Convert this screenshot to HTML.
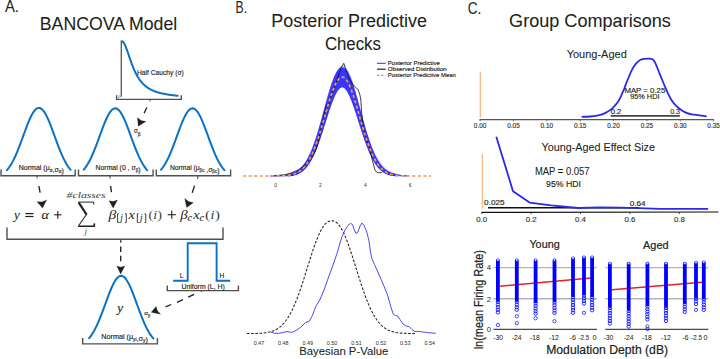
<!DOCTYPE html>
<html><head><meta charset="utf-8"><style>
html,body{margin:0;padding:0;background:#fff;}
body{width:720px;height:359px;overflow:hidden;}
svg{display:block;}
</style></head><body>
<svg width="720" height="359" viewBox="0 0 720 359">
<rect width="720" height="359" fill="#fff"/>
<text x="4.9" y="11.8" font-size="16.0" font-family='"Liberation Sans", sans-serif' fill="#231f20" textLength="14.0" lengthAdjust="spacingAndGlyphs" stroke="#231f20" stroke-width="0.08">A.</text>
<text x="39.8" y="30.2" font-size="18.2" font-family='"Liberation Sans", sans-serif' fill="#231f20" textLength="137.4" lengthAdjust="spacingAndGlyphs" stroke="#231f20" stroke-width="0.08">BANCOVA Model</text>
<line x1="121.30" y1="40.50" x2="121.30" y2="96.80" stroke="#58595b" stroke-width="1.35"/>
<path d="M121.60,41.20 L122.07,41.28 L122.55,41.52 L123.02,41.92 L123.50,42.47 L123.97,43.16 L124.44,43.98 L124.92,44.92 L125.39,45.96 L125.87,47.10 L126.34,48.31 L126.82,49.58 L127.29,50.91 L127.76,52.27 L128.24,53.65 L128.71,55.05 L129.19,56.45 L129.66,57.84 L130.13,59.22 L130.61,60.58 L131.08,61.92 L131.56,63.23 L132.03,64.50 L132.51,65.74 L132.98,66.94 L133.45,68.10 L133.93,69.23 L134.40,70.31 L134.88,71.35 L135.35,72.35 L135.82,73.31 L136.30,74.23 L136.77,75.11 L137.25,75.96 L137.72,76.77 L138.20,77.55 L138.67,78.29 L139.14,79.00 L139.62,79.68 L140.09,80.33 L140.57,80.96 L141.04,81.55 L141.51,82.12 L141.99,82.66 L142.46,83.19 L142.94,83.69 L143.41,84.16 L143.89,84.62 L144.36,85.06 L144.83,85.48 L145.31,85.88 L145.78,86.27 L146.26,86.64 L146.73,86.99 L147.20,87.33 L147.68,87.66 L148.15,87.97 L148.63,88.27 L149.10,88.56 L149.58,88.84 L150.05,89.10 L150.52,89.36 L151.00,89.61 L151.47,89.85 L151.95,90.07 L152.42,90.29 L152.90,90.51 L153.37,90.71 L153.84,90.91 L154.32,91.10 L154.79,91.28 L155.27,91.46 L155.74,91.63 L156.21,91.80 L156.69,91.96 L157.16,92.11 L157.64,92.26 L158.11,92.40 L158.59,92.54 L159.06,92.68 L159.53,92.81 L160.01,92.93 L160.48,93.05 L160.96,93.17 L161.43,93.29 L161.90,93.40 L162.38,93.51 L162.85,93.61 L163.33,93.71 L163.80,93.81 L164.28,93.91 L164.75,94.00 L165.22,94.09 L165.70,94.18 L166.17,94.26 L166.65,94.34 L167.12,94.42 L167.59,94.50 L168.07,94.58 L168.54,94.65 L169.02,94.72 L169.49,94.79 L169.97,94.86 L170.44,94.92 L170.91,94.99 L171.39,95.05 L171.86,95.11 L172.34,95.17 L172.81,95.23 L173.28,95.29 L173.76,95.34 L174.23,95.39 L174.71,95.45 L175.18,95.50 L175.66,95.55 L176.13,95.60 L176.60,95.64 L177.08,95.69 L177.55,95.73 L178.03,95.78 L178.50,95.82" stroke="#0a71c3" stroke-width="2.0" fill="none"/>
<text x="137.0" y="74.8" font-size="7.3" font-family='"Liberation Sans", sans-serif' fill="#231f20" textLength="46.8" lengthAdjust="spacingAndGlyphs" stroke="#231f20" stroke-width="0.15">Half Cauchy (σ)</text>
<text x="118.0" y="97.6" font-size="4.4" font-family='"Liberation Sans", sans-serif' fill="#58595b">0</text>
<path d="M116.60,95.20 V99.40 H181.30 V95.20" stroke="#4f5052" stroke-width="1.4" fill="none"/>
<line x1="150.20" y1="99.40" x2="149.80" y2="101.40" stroke="#4f5052" stroke-width="1.1"/>
<line x1="146.90" y1="107.50" x2="144.10" y2="113.20" stroke="#231f20" stroke-width="1.35"/>
<path d="M138.26,126.16 L137.47,117.76 L141.19,120.58 L145.87,121.57 Z" fill="#231f20" stroke="#231f20" stroke-width="0.3" stroke-linejoin="round"/>
<text x="133.9" y="132.8" font-size="6.3" font-family='"Liberation Sans", sans-serif' fill="#231f20" stroke="#231f20" stroke-width="0.15">σ</text>
<text x="137.8" y="135.5" font-size="5.0" font-family='"Liberation Sans", sans-serif' fill="#231f20" stroke="#231f20" stroke-width="0.15">β</text>
<path d="M6.90,170.17 L7.96,168.90 L9.02,167.48 L10.09,165.93 L11.15,164.24 L12.21,162.40 L13.27,160.41 L14.33,158.28 L15.39,156.01 L16.45,153.60 L17.52,151.07 L18.58,148.43 L19.64,145.69 L20.70,142.88 L21.76,140.00 L22.82,137.08 L23.89,134.16 L24.95,131.25 L26.01,128.39 L27.07,125.60 L28.13,122.91 L29.20,120.36 L30.26,117.98 L31.32,115.79 L32.38,113.82 L33.44,112.10 L34.50,110.66 L35.56,109.50 L36.63,108.65 L37.69,108.11 L38.75,107.90 L39.81,108.02 L40.87,108.46 L41.93,109.23 L43.00,110.30 L44.06,111.67 L45.12,113.31 L46.18,115.21 L47.24,117.34 L48.30,119.67 L49.37,122.18 L50.43,124.82 L51.49,127.59 L52.55,130.44 L53.61,133.33 L54.67,136.26 L55.74,139.18 L56.80,142.07 L57.86,144.90 L58.92,147.67 L59.98,150.34 L61.04,152.90 L62.11,155.34 L63.17,157.65 L64.23,159.82 L65.29,161.85 L66.35,163.73 L67.41,165.47 L68.48,167.06 L69.54,168.51 L70.60,169.82" stroke="#0a71c3" stroke-width="2.0" fill="none" stroke-linecap="round"/>
<path d="M83.75,169.71 L84.81,168.39 L85.87,166.93 L86.92,165.34 L87.98,163.60 L89.04,161.72 L90.10,159.69 L91.16,157.52 L92.22,155.21 L93.28,152.77 L94.33,150.22 L95.39,147.55 L96.45,144.80 L97.51,141.98 L98.57,139.10 L99.62,136.20 L100.68,133.30 L101.74,130.42 L102.80,127.60 L103.86,124.86 L104.92,122.24 L105.97,119.77 L107.03,117.47 L108.09,115.37 L109.15,113.51 L110.21,111.90 L111.27,110.57 L112.33,109.53 L113.38,108.81 L114.44,108.39 L115.50,108.31 L116.56,108.55 L117.62,109.11 L118.67,109.99 L119.73,111.16 L120.79,112.63 L121.85,114.36 L122.91,116.34 L123.97,118.53 L125.03,120.91 L126.08,123.46 L127.14,126.14 L128.20,128.92 L129.26,131.77 L130.32,134.67 L131.38,137.57 L132.43,140.47 L133.49,143.32 L134.55,146.11 L135.61,148.82 L136.67,151.44 L137.72,153.94 L138.78,156.32 L139.84,158.56 L140.90,160.66 L141.96,162.63 L143.02,164.44 L144.07,166.11 L145.13,167.64 L146.19,169.03 L147.25,170.29" stroke="#0a71c3" stroke-width="2.0" fill="none" stroke-linecap="round"/>
<path d="M161.00,169.77 L162.06,168.45 L163.11,167.01 L164.17,165.42 L165.23,163.69 L166.28,161.81 L167.34,159.79 L168.40,157.62 L169.45,155.32 L170.51,152.89 L171.57,150.34 L172.62,147.68 L173.68,144.93 L174.74,142.11 L175.79,139.24 L176.85,136.34 L177.91,133.43 L178.96,130.55 L180.02,127.73 L181.08,124.99 L182.13,122.36 L183.19,119.88 L184.25,117.57 L185.30,115.47 L186.36,113.59 L187.42,111.97 L188.47,110.63 L189.53,109.58 L190.59,108.83 L191.64,108.41 L192.70,108.31 L193.76,108.53 L194.81,109.08 L195.87,109.94 L196.93,111.10 L197.98,112.55 L199.04,114.27 L200.10,116.24 L201.15,118.42 L202.21,120.80 L203.27,123.34 L204.32,126.01 L205.38,128.79 L206.44,131.64 L207.49,134.53 L208.55,137.44 L209.61,140.33 L210.66,143.19 L211.72,145.98 L212.78,148.70 L213.83,151.32 L214.89,153.83 L215.95,156.21 L217.00,158.46 L218.06,160.57 L219.12,162.54 L220.17,164.36 L221.23,166.04 L222.29,167.57 L223.34,168.97 L224.40,170.23" stroke="#0a71c3" stroke-width="2.0" fill="none" stroke-linecap="round"/>
<path d="M1.00,169.60 V175.80 H75.20 V169.60" stroke="#4f5052" stroke-width="1.4" fill="none"/>
<path d="M78.50,169.60 V175.80 H153.10 V169.60" stroke="#4f5052" stroke-width="1.4" fill="none"/>
<path d="M156.30,169.60 V175.80 H230.60 V169.60" stroke="#4f5052" stroke-width="1.4" fill="none"/>
<text x="18.8" y="170.2" font-size="6.9" font-family='"Liberation Sans", sans-serif' fill="#231f20" textLength="45.0" lengthAdjust="spacingAndGlyphs" stroke="#231f20" stroke-width="0.15"><tspan>Normal (μ</tspan><tspan font-size="4.6" dy="1.6">α</tspan><tspan dy="-1.6"></tspan><tspan>,σ</tspan><tspan font-size="4.6" dy="1.6">α</tspan><tspan dy="-1.6"></tspan><tspan>)</tspan></text>
<text x="95.6" y="170.2" font-size="6.9" font-family='"Liberation Sans", sans-serif' fill="#231f20" textLength="45.0" lengthAdjust="spacingAndGlyphs" stroke="#231f20" stroke-width="0.15"><tspan>Normal (0 , σ</tspan><tspan font-size="4.6" dy="1.6">β</tspan><tspan dy="-1.6"></tspan><tspan>)</tspan></text>
<text x="170.0" y="170.2" font-size="6.9" font-family='"Liberation Sans", sans-serif' fill="#231f20" textLength="49.4" lengthAdjust="spacingAndGlyphs" stroke="#231f20" stroke-width="0.15"><tspan>Normal (μ</tspan><tspan font-size="4.6" dy="1.6">βc</tspan><tspan dy="-1.6"></tspan><tspan> ,σ</tspan><tspan font-size="4.6" dy="1.6">βc</tspan><tspan dy="-1.6"></tspan><tspan>)</tspan></text>
<line x1="37.00" y1="175.80" x2="37.20" y2="178.30" stroke="#4f5052" stroke-width="1.1"/>
<line x1="38.90" y1="186.00" x2="40.10" y2="192.60" stroke="#231f20" stroke-width="1.35"/>
<path d="M42.55,208.12 L37.06,201.73 L41.93,201.90 L46.58,200.05 Z" fill="#231f20" stroke="#231f20" stroke-width="0.3" stroke-linejoin="round"/>
<line x1="109.80" y1="175.80" x2="110.10" y2="178.60" stroke="#4f5052" stroke-width="1.1"/>
<line x1="110.60" y1="185.80" x2="111.40" y2="192.10" stroke="#231f20" stroke-width="1.35"/>
<path d="M113.20,208.04 L109.05,200.87 L113.24,201.54 L117.45,200.09 Z" fill="#231f20" stroke="#231f20" stroke-width="0.3" stroke-linejoin="round"/>
<line x1="198.20" y1="175.80" x2="197.50" y2="178.90" stroke="#4f5052" stroke-width="1.1"/>
<line x1="194.60" y1="185.60" x2="192.20" y2="192.70" stroke="#231f20" stroke-width="1.35"/>
<path d="M186.74,207.49 L184.72,198.53 L188.67,201.57 L193.24,202.68 Z" fill="#231f20" stroke="#231f20" stroke-width="0.3" stroke-linejoin="round"/>
<text x="13.9" y="218.6" font-size="13.0" font-family='"Liberation Serif", serif' fill="#231f20" font-style="italic" stroke="#231f20" stroke-width="0.1">y</text>
<line x1="25.30" y1="213.60" x2="33.50" y2="213.60" stroke="#231f20" stroke-width="1.2"/>
<line x1="25.30" y1="216.50" x2="33.50" y2="216.50" stroke="#231f20" stroke-width="1.2"/>
<text x="41.6" y="218.6" font-size="13.0" font-family='"Liberation Serif", serif' fill="#231f20" textLength="7.4" lengthAdjust="spacingAndGlyphs" font-style="italic" stroke="#231f20" stroke-width="0.1">α</text>
<line x1="54.10" y1="214.80" x2="61.50" y2="214.80" stroke="#231f20" stroke-width="1.1"/>
<line x1="57.80" y1="210.90" x2="57.80" y2="218.80" stroke="#231f20" stroke-width="1.1"/>
<text x="66.6" y="198.0" font-size="8.8" font-family='"Liberation Serif", serif' fill="#3a3a3a" textLength="39.0" lengthAdjust="spacingAndGlyphs" font-style="italic">#classes</text>
<path d="M78.4,202.1 H93.6 L93.9,204.6" stroke="#231f20" stroke-width="1.0" fill="none"/>
<path d="M78.6,202.4 L86.6,214.6" stroke="#231f20" stroke-width="2.1" fill="none"/>
<path d="M86.6,214.3 L78.4,226.0" stroke="#231f20" stroke-width="1.1" fill="none"/>
<path d="M78.2,226.3 H94.3 L94.4,223.4" stroke="#231f20" stroke-width="1.6" fill="none"/>
<text x="84.6" y="234.4" font-size="9.0" font-family='"Liberation Serif", serif' fill="#231f20" font-style="italic" stroke="#fff" stroke-width="0.12">j</text>
<text x="108.6" y="219.0" font-size="13.0" font-family='"Liberation Serif", serif' fill="#231f20" textLength="7.8" lengthAdjust="spacingAndGlyphs" font-style="italic">β</text>
<path d="M118.90,213.80 H117.60 V222.50 H118.90 M125.00,213.80 H126.30 V222.50 H125.00" stroke="#333" stroke-width="0.95" fill="none"/>
<text x="120.3" y="220.9" font-size="9.4" font-family='"Liberation Serif", serif' fill="#333" font-style="italic" stroke="#333" stroke-width="0.1">j</text>
<text x="128.5" y="219.0" font-size="13.0" font-family='"Liberation Serif", serif' fill="#231f20" textLength="6.4" lengthAdjust="spacingAndGlyphs" font-style="italic">x</text>
<path d="M138.60,213.80 H137.30 V222.50 H138.60 M144.50,213.80 H145.80 V222.50 H144.50" stroke="#333" stroke-width="0.95" fill="none"/>
<text x="140.0" y="220.9" font-size="9.4" font-family='"Liberation Serif", serif' fill="#333" font-style="italic" stroke="#333" stroke-width="0.1">j</text>
<text x="148.6" y="219.0" font-size="13.0" font-family='"Liberation Serif", serif' fill="#231f20" textLength="13.4" lengthAdjust="spacingAndGlyphs" stroke="#fff" stroke-width="0.12">(<tspan font-style="italic">i</tspan>)</text>
<line x1="167.70" y1="214.70" x2="175.80" y2="214.70" stroke="#231f20" stroke-width="1.1"/>
<line x1="171.75" y1="210.60" x2="171.75" y2="218.80" stroke="#231f20" stroke-width="1.1"/>
<text x="180.2" y="219.0" font-size="13.0" font-family='"Liberation Serif", serif' fill="#231f20" textLength="7.4" lengthAdjust="spacingAndGlyphs" font-style="italic">β</text>
<text x="187.4" y="221.2" font-size="9.8" font-family='"Liberation Serif", serif' fill="#231f20" textLength="4.6" lengthAdjust="spacingAndGlyphs" font-style="italic" stroke="#231f20" stroke-width="0.1">c</text>
<text x="193.3" y="219.0" font-size="13.0" font-family='"Liberation Serif", serif' fill="#231f20" textLength="6.4" lengthAdjust="spacingAndGlyphs" font-style="italic">x</text>
<text x="199.6" y="221.2" font-size="9.8" font-family='"Liberation Serif", serif' fill="#231f20" textLength="4.6" lengthAdjust="spacingAndGlyphs" font-style="italic" stroke="#231f20" stroke-width="0.1">c</text>
<text x="205.0" y="219.0" font-size="13.0" font-family='"Liberation Serif", serif' fill="#231f20" textLength="15.0" lengthAdjust="spacingAndGlyphs" stroke="#fff" stroke-width="0.12">(<tspan font-style="italic">i</tspan>)</text>
<path d="M7.00,227.50 V239.30 H223.00 V227.50" stroke="#4f5052" stroke-width="1.4" fill="none"/>
<line x1="120.70" y1="240.30" x2="120.70" y2="242.60" stroke="#231f20" stroke-width="1.35"/>
<line x1="120.70" y1="246.50" x2="120.70" y2="251.90" stroke="#231f20" stroke-width="1.35"/>
<line x1="120.70" y1="255.70" x2="120.70" y2="261.30" stroke="#231f20" stroke-width="1.35"/>
<path d="M120.70,274.08 L116.78,266.01 L120.74,267.14 L124.73,266.01 Z" fill="#231f20" stroke="#231f20" stroke-width="0.3" stroke-linejoin="round"/>
<path d="M89.10,338.18 L90.17,336.87 L91.24,335.41 L92.31,333.82 L93.38,332.08 L94.45,330.19 L95.52,328.16 L96.59,325.98 L97.66,323.66 L98.73,321.21 L99.80,318.64 L100.87,315.95 L101.94,313.18 L103.01,310.33 L104.08,307.42 L105.15,304.48 L106.22,301.54 L107.29,298.62 L108.36,295.75 L109.43,292.96 L110.50,290.29 L111.57,287.76 L112.64,285.41 L113.71,283.25 L114.78,281.33 L115.85,279.66 L116.92,278.27 L117.99,277.18 L119.06,276.40 L120.13,275.94 L121.20,275.80 L122.27,276.00 L123.34,276.52 L124.41,277.36 L125.48,278.51 L126.55,279.96 L127.62,281.67 L128.69,283.64 L129.76,285.83 L130.83,288.22 L131.90,290.78 L132.97,293.48 L134.04,296.28 L135.11,299.16 L136.18,302.09 L137.25,305.03 L138.32,307.97 L139.39,310.86 L140.46,313.70 L141.53,316.46 L142.60,319.13 L143.67,321.68 L144.74,324.10 L145.81,326.40 L146.88,328.55 L147.95,330.56 L149.02,332.41 L150.09,334.13 L151.16,335.70 L152.23,337.12 L153.30,338.42" stroke="#0a71c3" stroke-width="2.0" fill="none" stroke-linecap="round"/>
<text x="117.3" y="312.0" font-size="13.0" font-family='"Liberation Serif", serif' fill="#231f20" font-style="italic" stroke="#231f20" stroke-width="0.15">y</text>
<path d="M82.70,338.00 V343.90 H157.40 V338.00" stroke="#4f5052" stroke-width="1.4" fill="none"/>
<text x="101.3" y="339.2" font-size="6.9" font-family='"Liberation Sans", sans-serif' fill="#231f20" textLength="46.6" lengthAdjust="spacingAndGlyphs" stroke="#231f20" stroke-width="0.15"><tspan>Normal (μ</tspan><tspan font-size="4.6" dy="1.6">yi</tspan><tspan dy="-1.6"></tspan><tspan>,σ</tspan><tspan font-size="4.6" dy="1.6">y</tspan><tspan dy="-1.6"></tspan><tspan>)</tspan></text>
<path d="M173.1,280.7 H187.7 V243.3 H216.6 V280.7 H230.2" stroke="#0a71c3" stroke-width="1.9" fill="none"/>
<text x="179.8" y="278.0" font-size="6.6" font-family='"Liberation Sans", sans-serif' fill="#231f20" stroke="#231f20" stroke-width="0.15">L</text>
<text x="219.6" y="278.0" font-size="6.6" font-family='"Liberation Sans", sans-serif' fill="#231f20" stroke="#231f20" stroke-width="0.15">H</text>
<path d="M167.30,285.60 V290.60 H238.40 V285.60" stroke="#4f5052" stroke-width="1.4" fill="none"/>
<line x1="201.60" y1="290.60" x2="201.20" y2="292.00" stroke="#4f5052" stroke-width="1.1"/>
<text x="181.5" y="288.6" font-size="6.9" font-family='"Liberation Sans", sans-serif' fill="#231f20" textLength="43.3" lengthAdjust="spacingAndGlyphs" stroke="#231f20" stroke-width="0.15">Uniform (L, H)</text>
<line x1="194.10" y1="294.30" x2="188.20" y2="297.20" stroke="#231f20" stroke-width="1.35"/>
<line x1="182.90" y1="299.60" x2="177.00" y2="302.30" stroke="#231f20" stroke-width="1.35"/>
<line x1="171.20" y1="304.50" x2="165.50" y2="306.90" stroke="#231f20" stroke-width="1.35"/>
<path d="M151.19,312.24 L156.12,306.42 L157.31,310.55 L160.49,314.14 Z" fill="#231f20" stroke="#231f20" stroke-width="0.3" stroke-linejoin="round"/>
<text x="144.2" y="314.8" font-size="6.2" font-family='"Liberation Sans", sans-serif' fill="#231f20" stroke="#231f20" stroke-width="0.15">σ</text>
<text x="147.7" y="317.3" font-size="5.0" font-family='"Liberation Sans", sans-serif' fill="#231f20" stroke="#231f20" stroke-width="0.15">y</text>
<text x="235.6" y="13.1" font-size="16.0" font-family='"Liberation Sans", sans-serif' fill="#231f20" textLength="11.4" lengthAdjust="spacingAndGlyphs" stroke="#231f20" stroke-width="0.08">B.</text>
<text x="271.2" y="26.7" font-size="18.0" font-family='"Liberation Sans", sans-serif' fill="#231f20" textLength="155.8" lengthAdjust="spacingAndGlyphs" stroke="#231f20" stroke-width="0.08">Posterior Predictive</text>
<text x="324.9" y="50.2" font-size="18.0" font-family='"Liberation Sans", sans-serif' fill="#231f20" textLength="56.0" lengthAdjust="spacingAndGlyphs" stroke="#231f20" stroke-width="0.08">Checks</text>
<line x1="377.00" y1="63.30" x2="385.70" y2="63.30" stroke="#3b3bff" stroke-width="1.1"/>
<line x1="377.00" y1="69.20" x2="385.70" y2="69.20" stroke="#111" stroke-width="1.1"/>
<line x1="377.00" y1="75.40" x2="385.70" y2="75.40" stroke="#f58a3c" stroke-width="1.1" stroke-dasharray="2.5,1.5"/>
<text x="387.8" y="65.3" font-size="5.8" font-family='"Liberation Sans", sans-serif' fill="#231f20" textLength="52.1" lengthAdjust="spacingAndGlyphs" stroke="#231f20" stroke-width="0.15">Posterior Predictive</text>
<text x="387.8" y="71.2" font-size="5.8" font-family='"Liberation Sans", sans-serif' fill="#231f20" textLength="59.0" lengthAdjust="spacingAndGlyphs" stroke="#231f20" stroke-width="0.15">Observed Distribution</text>
<text x="387.8" y="77.4" font-size="5.8" font-family='"Liberation Sans", sans-serif' fill="#231f20" textLength="68.0" lengthAdjust="spacingAndGlyphs" stroke="#231f20" stroke-width="0.15">Posterior Predictive Mean</text>
<g fill="none" stroke="#2020ff" stroke-width="1.8" stroke-opacity="0.22" stroke-linejoin="round">
<path d="M286.2,175.4 L288.1,175.1 L290.0,174.8 L291.9,174.3 L293.7,173.8 L295.6,173.1 L297.5,172.2 L299.4,171.0 L301.3,169.6 L303.1,167.9 L305.0,165.9 L306.9,163.5 L308.8,160.6 L310.7,157.4 L312.6,153.7 L314.4,149.5 L316.3,144.9 L318.2,139.9 L320.1,134.6 L322.0,129.0 L323.8,123.3 L325.7,117.5 L327.6,111.8 L329.5,106.2 L331.4,101.1 L333.3,96.4 L335.1,92.4 L337.0,89.1 L338.9,86.7 L340.8,85.2 L342.7,84.7 L344.5,85.3 L346.4,86.8 L348.3,89.2 L350.2,92.5 L352.1,96.6 L353.9,101.2 L355.8,106.4 L357.7,112.0 L359.6,117.7 L361.5,123.5 L363.4,129.2 L365.2,134.8 L367.1,140.1 L369.0,145.1 L370.9,149.7 L372.8,153.8 L374.6,157.5 L376.5,160.7 L378.4,163.6 L380.3,166.0 L382.2,168.0 L384.0,169.7 L385.9,171.1 L387.8,172.2 L389.7,173.1 L391.6,173.8 L393.5,174.4 L395.3,174.8 L397.2,175.1 L399.1,175.4"/>
<path d="M288.1,175.4 L290.0,175.1 L291.9,174.8 L293.7,174.3 L295.6,173.7 L297.5,172.9 L299.4,171.9 L301.3,170.7 L303.1,169.1 L305.0,167.2 L306.9,164.8 L308.8,162.0 L310.7,158.8 L312.6,155.0 L314.4,150.7 L316.3,145.9 L318.2,140.6 L320.1,134.9 L322.0,128.9 L323.8,122.6 L325.7,116.2 L327.6,109.9 L329.5,103.8 L331.4,98.1 L333.3,93.0 L335.1,88.6 L337.0,85.1 L338.9,82.5 L340.8,81.1 L342.7,80.9 L344.5,81.8 L346.4,83.8 L348.3,86.8 L350.2,90.9 L352.1,95.7 L353.9,101.1 L355.8,107.1 L357.7,113.3 L359.6,119.7 L361.5,126.0 L363.4,132.2 L365.2,138.0 L367.1,143.5 L369.0,148.6 L370.9,153.1 L372.8,157.1 L374.6,160.6 L376.5,163.6 L378.4,166.1 L380.3,168.3 L382.2,170.0 L384.0,171.4 L385.9,172.5 L387.8,173.4 L389.7,174.1 L391.6,174.6 L393.5,175.0 L395.3,175.3"/>
<path d="M286.2,175.3 L288.1,175.1 L290.0,174.7 L291.9,174.3 L293.7,173.6 L295.6,172.8 L297.5,171.8 L299.4,170.6 L301.3,169.0 L303.1,167.1 L305.0,164.8 L306.9,162.0 L308.8,158.8 L310.7,155.0 L312.6,150.8 L314.4,146.0 L316.3,140.7 L318.2,135.0 L320.1,128.9 L322.0,122.6 L323.8,116.0 L325.7,109.5 L327.6,103.1 L329.5,96.9 L331.4,91.3 L333.3,86.3 L335.1,82.1 L337.0,78.8 L338.9,76.6 L340.8,75.5 L342.7,75.5 L344.5,76.8 L346.4,79.1 L348.3,82.4 L350.2,86.7 L352.1,91.8 L353.9,97.5 L355.8,103.6 L357.7,110.1 L359.6,116.6 L361.5,123.2 L363.4,129.5 L365.2,135.6 L367.1,141.2 L369.0,146.5 L370.9,151.2 L372.8,155.4 L374.6,159.1 L376.5,162.3 L378.4,165.0 L380.3,167.3 L382.2,169.2 L384.0,170.7 L385.9,171.9 L387.8,172.9 L389.7,173.7 L391.6,174.3 L393.5,174.8 L395.3,175.1 L397.2,175.4"/>
<path d="M286.2,175.3 L288.1,175.0 L290.0,174.6 L291.9,174.2 L293.7,173.6 L295.6,172.8 L297.5,171.8 L299.4,170.7 L301.3,169.2 L303.1,167.4 L305.0,165.3 L306.9,162.8 L308.8,159.9 L310.7,156.5 L312.6,152.8 L314.4,148.5 L316.3,143.9 L318.2,138.9 L320.1,133.6 L322.0,128.0 L323.8,122.3 L325.7,116.6 L327.6,111.0 L329.5,105.6 L331.4,100.5 L333.3,96.0 L335.1,92.2 L337.0,89.0 L338.9,86.8 L340.8,85.5 L342.7,85.1 L344.5,85.8 L346.4,87.3 L348.3,89.8 L350.2,93.2 L352.1,97.2 L353.9,101.9 L355.8,107.1 L357.7,112.6 L359.6,118.2 L361.5,124.0 L363.4,129.6 L365.2,135.1 L367.1,140.4 L369.0,145.3 L370.9,149.8 L372.8,153.9 L374.6,157.5 L376.5,160.7 L378.4,163.5 L380.3,165.9 L382.2,167.9 L384.0,169.6 L385.9,171.0 L387.8,172.1 L389.7,173.0 L391.6,173.8 L393.5,174.3 L395.3,174.8 L397.2,175.1 L399.1,175.3"/>
<path d="M288.1,175.3 L290.0,175.0 L291.9,174.6 L293.7,174.1 L295.6,173.4 L297.5,172.5 L299.4,171.4 L301.3,170.0 L303.1,168.2 L305.0,166.0 L306.9,163.4 L308.8,160.3 L310.7,156.6 L312.6,152.3 L314.4,147.5 L316.3,142.1 L318.2,136.2 L320.1,129.9 L322.0,123.1 L323.8,116.1 L325.7,109.0 L327.6,101.9 L329.5,95.1 L331.4,88.8 L333.3,83.1 L335.1,78.2 L337.0,74.3 L338.9,71.5 L340.8,69.9 L342.7,69.6 L344.5,70.6 L346.4,72.9 L348.3,76.3 L350.2,80.8 L352.1,86.2 L353.9,92.3 L355.8,98.9 L357.7,105.9 L359.6,113.0 L361.5,120.0 L363.4,126.9 L365.2,133.5 L367.1,139.6 L369.0,145.2 L370.9,150.3 L372.8,154.8 L374.6,158.7 L376.5,162.1 L378.4,164.9 L380.3,167.3 L382.2,169.2 L384.0,170.8 L385.9,172.1 L387.8,173.1 L389.7,173.8 L391.6,174.4 L393.5,174.9 L395.3,175.2"/>
<path d="M284.3,175.3 L286.2,175.1 L288.1,174.8 L290.0,174.3 L291.9,173.8 L293.7,173.1 L295.6,172.2 L297.5,171.0 L299.4,169.6 L301.3,168.0 L303.1,165.9 L305.0,163.6 L306.9,160.8 L308.8,157.5 L310.7,153.8 L312.6,149.7 L314.4,145.1 L316.3,140.1 L318.2,134.8 L320.1,129.1 L322.0,123.2 L323.8,117.2 L325.7,111.2 L327.6,105.4 L329.5,99.8 L331.4,94.6 L333.3,90.0 L335.1,86.2 L337.0,83.1 L338.9,80.9 L340.8,79.7 L342.7,79.6 L344.5,80.4 L346.4,82.2 L348.3,85.0 L350.2,88.6 L352.1,92.9 L353.9,97.9 L355.8,103.4 L357.7,109.1 L359.6,115.1 L361.5,121.1 L363.4,127.0 L365.2,132.8 L367.1,138.3 L369.0,143.4 L370.9,148.1 L372.8,152.4 L374.6,156.3 L376.5,159.7 L378.4,162.6 L380.3,165.2 L382.2,167.3 L384.0,169.1 L385.9,170.6 L387.8,171.8 L389.7,172.8 L391.6,173.5 L393.5,174.1 L395.3,174.6 L397.2,175.0 L399.1,175.3"/>
<path d="M288.1,175.3 L290.0,175.1 L291.9,174.7 L293.7,174.2 L295.6,173.6 L297.5,172.8 L299.4,171.8 L301.3,170.5 L303.1,168.9 L305.0,167.0 L306.9,164.6 L308.8,161.8 L310.7,158.6 L312.6,154.8 L314.4,150.6 L316.3,145.9 L318.2,140.7 L320.1,135.1 L322.0,129.2 L323.8,123.1 L325.7,116.8 L327.6,110.7 L329.5,104.8 L331.4,99.2 L333.3,94.2 L335.1,89.9 L337.0,86.5 L338.9,84.1 L340.8,82.6 L342.7,82.3 L344.5,83.2 L346.4,85.1 L348.3,88.0 L350.2,91.8 L352.1,96.5 L353.9,101.7 L355.8,107.5 L357.7,113.5 L359.6,119.7 L361.5,125.9 L363.4,132.0 L365.2,137.7 L367.1,143.1 L369.0,148.1 L370.9,152.6 L372.8,156.6 L374.6,160.1 L376.5,163.2 L378.4,165.7 L380.3,167.9 L382.2,169.7 L384.0,171.1 L385.9,172.3 L387.8,173.2 L389.7,173.9 L391.6,174.5 L393.5,174.9 L395.3,175.2"/>
<path d="M288.1,175.3 L290.0,175.1 L291.9,174.7 L293.7,174.2 L295.6,173.5 L297.5,172.7 L299.4,171.6 L301.3,170.3 L303.1,168.6 L305.0,166.6 L306.9,164.1 L308.8,161.2 L310.7,157.8 L312.6,153.9 L314.4,149.4 L316.3,144.4 L318.2,138.9 L320.1,133.0 L322.0,126.7 L323.8,120.2 L325.7,113.7 L327.6,107.1 L329.5,100.9 L331.4,95.0 L333.3,89.7 L335.1,85.2 L337.0,81.6 L338.9,79.0 L340.8,77.5 L342.7,77.2 L344.5,78.2 L346.4,80.2 L348.3,83.4 L350.2,87.5 L352.1,92.5 L353.9,98.1 L355.8,104.2 L357.7,110.7 L359.6,117.2 L361.5,123.8 L363.4,130.1 L365.2,136.2 L367.1,141.9 L369.0,147.1 L370.9,151.9 L372.8,156.1 L374.6,159.7 L376.5,162.9 L378.4,165.5 L380.3,167.8 L382.2,169.6 L384.0,171.1 L385.9,172.3 L387.8,173.2 L389.7,173.9 L391.6,174.5 L393.5,174.9 L395.3,175.2"/>
<path d="M288.1,175.3 L290.0,175.0 L291.9,174.6 L293.7,174.1 L295.6,173.4 L297.5,172.5 L299.4,171.5 L301.3,170.1 L303.1,168.4 L305.0,166.4 L306.9,163.9 L308.8,161.0 L310.7,157.6 L312.6,153.7 L314.4,149.2 L316.3,144.3 L318.2,138.9 L320.1,133.1 L322.0,126.9 L323.8,120.5 L325.7,114.0 L327.6,107.5 L329.5,101.3 L331.4,95.4 L333.3,90.0 L335.1,85.4 L337.0,81.6 L338.9,78.8 L340.8,77.1 L342.7,76.5 L344.5,77.1 L346.4,78.8 L348.3,81.6 L350.2,85.3 L352.1,90.0 L353.9,95.3 L355.8,101.2 L357.7,107.5 L359.6,113.9 L361.5,120.4 L363.4,126.8 L365.2,133.0 L367.1,138.8 L369.0,144.2 L370.9,149.2 L372.8,153.6 L374.6,157.5 L376.5,160.9 L378.4,163.9 L380.3,166.3 L382.2,168.4 L384.0,170.1 L385.9,171.4 L387.8,172.5 L389.7,173.4 L391.6,174.1 L393.5,174.6 L395.3,175.0 L397.2,175.3"/>
<path d="M290.0,175.3 L291.9,175.1 L293.7,174.7 L295.6,174.2 L297.5,173.5 L299.4,172.6 L301.3,171.5 L303.1,170.0 L305.0,168.3 L306.9,166.1 L308.8,163.4 L310.7,160.2 L312.6,156.5 L314.4,152.3 L316.3,147.4 L318.2,142.1 L320.1,136.2 L322.0,129.9 L323.8,123.3 L325.7,116.5 L327.6,109.7 L329.5,103.1 L331.4,96.8 L333.3,91.1 L335.1,86.1 L337.0,82.1 L338.9,79.1 L340.8,77.4 L342.7,76.9 L344.5,77.6 L346.4,79.6 L348.3,82.7 L350.2,86.9 L352.1,92.0 L353.9,97.9 L355.8,104.2 L357.7,110.9 L359.6,117.7 L361.5,124.5 L363.4,131.0 L365.2,137.2 L367.1,143.0 L369.0,148.3 L370.9,153.1 L372.8,157.2 L374.6,160.8 L376.5,163.9 L378.4,166.5 L380.3,168.6 L382.2,170.3 L384.0,171.7 L385.9,172.8 L387.8,173.6 L389.7,174.3 L391.6,174.8 L393.5,175.1 L395.3,175.4"/>
<path d="M286.2,175.3 L288.1,175.0 L290.0,174.6 L291.9,174.1 L293.7,173.5 L295.6,172.7 L297.5,171.7 L299.4,170.5 L301.3,169.0 L303.1,167.1 L305.0,164.9 L306.9,162.3 L308.8,159.3 L310.7,155.9 L312.6,152.0 L314.4,147.6 L316.3,142.8 L318.2,137.7 L320.1,132.3 L322.0,126.6 L323.8,120.9 L325.7,115.1 L327.6,109.5 L329.5,104.2 L331.4,99.3 L333.3,95.0 L335.1,91.4 L337.0,88.6 L338.9,86.8 L340.8,85.9 L342.7,86.0 L344.5,87.1 L346.4,89.2 L348.3,92.1 L350.2,95.9 L352.1,100.3 L353.9,105.3 L355.8,110.7 L357.7,116.3 L359.6,122.1 L361.5,127.9 L363.4,133.5 L365.2,138.8 L367.1,143.9 L369.0,148.6 L370.9,152.8 L372.8,156.6 L374.6,160.0 L376.5,162.9 L378.4,165.4 L380.3,167.6 L382.2,169.3 L384.0,170.8 L385.9,172.0 L387.8,172.9 L389.7,173.7 L391.6,174.3 L393.5,174.7 L395.3,175.1 L397.2,175.3"/>
<path d="M288.1,175.4 L290.0,175.1 L291.9,174.8 L293.7,174.3 L295.6,173.7 L297.5,172.9 L299.4,171.9 L301.3,170.6 L303.1,169.0 L305.0,167.1 L306.9,164.7 L308.8,161.9 L310.7,158.5 L312.6,154.7 L314.4,150.3 L316.3,145.4 L318.2,140.0 L320.1,134.1 L322.0,127.9 L323.8,121.5 L325.7,114.9 L327.6,108.4 L329.5,102.1 L331.4,96.2 L333.3,90.8 L335.1,86.2 L337.0,82.6 L338.9,79.9 L340.8,78.4 L342.7,78.0 L344.5,78.9 L346.4,80.9 L348.3,83.9 L350.2,88.0 L352.1,92.9 L353.9,98.5 L355.8,104.6 L357.7,111.0 L359.6,117.6 L361.5,124.1 L363.4,130.5 L365.2,136.6 L367.1,142.2 L369.0,147.4 L370.9,152.1 L372.8,156.3 L374.6,159.9 L376.5,163.1 L378.4,165.7 L380.3,167.9 L382.2,169.7 L384.0,171.2 L385.9,172.4 L387.8,173.3 L389.7,174.0 L391.6,174.5 L393.5,174.9 L395.3,175.2"/>
<path d="M290.0,175.3 L291.9,175.0 L293.7,174.6 L295.6,174.1 L297.5,173.4 L299.4,172.4 L301.3,171.2 L303.1,169.7 L305.0,167.7 L306.9,165.4 L308.8,162.5 L310.7,159.0 L312.6,155.0 L314.4,150.3 L316.3,145.0 L318.2,139.0 L320.1,132.5 L322.0,125.6 L323.8,118.2 L325.7,110.7 L327.6,103.1 L329.5,95.6 L331.4,88.6 L333.3,82.2 L335.1,76.6 L337.0,72.0 L338.9,68.7 L340.8,66.6 L342.7,66.0 L344.5,66.8 L346.4,69.0 L348.3,72.5 L350.2,77.2 L352.1,82.8 L353.9,89.3 L355.8,96.4 L357.7,103.9 L359.6,111.5 L361.5,119.0 L363.4,126.3 L365.2,133.3 L367.1,139.7 L369.0,145.6 L370.9,150.8 L372.8,155.4 L374.6,159.4 L376.5,162.8 L378.4,165.6 L380.3,168.0 L382.2,169.9 L384.0,171.4 L385.9,172.5 L387.8,173.5 L389.7,174.1 L391.6,174.7 L393.5,175.1 L395.3,175.3"/>
<path d="M288.1,175.2 L290.0,174.9 L291.9,174.5 L293.7,173.9 L295.6,173.2 L297.5,172.4 L299.4,171.3 L301.3,169.9 L303.1,168.3 L305.0,166.3 L306.9,163.9 L308.8,161.1 L310.7,157.9 L312.6,154.2 L314.4,150.0 L316.3,145.5 L318.2,140.5 L320.1,135.2 L322.0,129.6 L323.8,123.8 L325.7,117.9 L327.6,112.2 L329.5,106.6 L331.4,101.4 L333.3,96.8 L335.1,92.7 L337.0,89.5 L338.9,87.1 L340.8,85.7 L342.7,85.3 L344.5,85.9 L346.4,87.5 L348.3,90.0 L350.2,93.5 L352.1,97.6 L353.9,102.4 L355.8,107.7 L357.7,113.3 L359.6,119.1 L361.5,124.9 L363.4,130.7 L365.2,136.2 L367.1,141.5 L369.0,146.4 L370.9,150.9 L372.8,154.9 L374.6,158.5 L376.5,161.7 L378.4,164.4 L380.3,166.7 L382.2,168.6 L384.0,170.2 L385.9,171.5 L387.8,172.6 L389.7,173.4 L391.6,174.0 L393.5,174.5 L395.3,174.9 L397.2,175.2"/>
<path d="M288.1,175.2 L290.0,174.9 L291.9,174.5 L293.7,173.9 L295.6,173.2 L297.5,172.3 L299.4,171.2 L301.3,169.8 L303.1,168.1 L305.0,165.9 L306.9,163.4 L308.8,160.4 L310.7,157.0 L312.6,153.0 L314.4,148.6 L316.3,143.6 L318.2,138.2 L320.1,132.4 L322.0,126.3 L323.8,120.0 L325.7,113.6 L327.6,107.4 L329.5,101.3 L331.4,95.7 L333.3,90.6 L335.1,86.2 L337.0,82.8 L338.9,80.3 L340.8,78.8 L342.7,78.5 L344.5,79.4 L346.4,81.3 L348.3,84.2 L350.2,88.1 L352.1,92.8 L353.9,98.2 L355.8,104.1 L357.7,110.2 L359.6,116.6 L361.5,122.9 L363.4,129.2 L365.2,135.1 L367.1,140.7 L369.0,145.9 L370.9,150.7 L372.8,154.9 L374.6,158.6 L376.5,161.9 L378.4,164.6 L380.3,167.0 L382.2,168.9 L384.0,170.5 L385.9,171.8 L387.8,172.8 L389.7,173.6 L391.6,174.2 L393.5,174.7 L395.3,175.1 L397.2,175.3"/>
<path d="M286.2,175.3 L288.1,175.0 L290.0,174.6 L291.9,174.1 L293.7,173.5 L295.6,172.7 L297.5,171.7 L299.4,170.4 L301.3,168.9 L303.1,167.0 L305.0,164.8 L306.9,162.2 L308.8,159.2 L310.7,155.7 L312.6,151.7 L314.4,147.3 L316.3,142.5 L318.2,137.3 L320.1,131.8 L322.0,126.0 L323.8,120.2 L325.7,114.3 L327.6,108.5 L329.5,103.1 L331.4,98.0 L333.3,93.5 L335.1,89.8 L337.0,86.8 L338.9,84.8 L340.8,83.7 L342.7,83.6 L344.5,84.6 L346.4,86.5 L348.3,89.4 L350.2,93.1 L352.1,97.5 L353.9,102.5 L355.8,108.0 L357.7,113.7 L359.6,119.6 L361.5,125.4 L363.4,131.2 L365.2,136.7 L367.1,142.0 L369.0,146.8 L370.9,151.3 L372.8,155.3 L374.6,158.8 L376.5,161.9 L378.4,164.6 L380.3,166.8 L382.2,168.7 L384.0,170.3 L385.9,171.6 L387.8,172.6 L389.7,173.4 L391.6,174.1 L393.5,174.6 L395.3,174.9 L397.2,175.2"/>
<path d="M290.0,175.3 L291.9,175.1 L293.7,174.7 L295.6,174.1 L297.5,173.4 L299.4,172.5 L301.3,171.3 L303.1,169.8 L305.0,167.9 L306.9,165.6 L308.8,162.7 L310.7,159.3 L312.6,155.3 L314.4,150.7 L316.3,145.5 L318.2,139.6 L320.1,133.2 L322.0,126.3 L323.8,119.1 L325.7,111.6 L327.6,104.1 L329.5,96.8 L331.4,89.8 L333.3,83.5 L335.1,78.0 L337.0,73.5 L338.9,70.3 L340.8,68.3 L342.7,67.7 L344.5,68.5 L346.4,70.8 L348.3,74.3 L350.2,78.9 L352.1,84.6 L353.9,91.1 L355.8,98.1 L357.7,105.5 L359.6,113.0 L361.5,120.4 L363.4,127.6 L365.2,134.4 L367.1,140.7 L369.0,146.5 L370.9,151.6 L372.8,156.1 L374.6,160.0 L376.5,163.3 L378.4,166.0 L380.3,168.3 L382.2,170.1 L384.0,171.6 L385.9,172.7 L387.8,173.6 L389.7,174.2 L391.6,174.7 L393.5,175.1 L395.3,175.4"/>
<path d="M286.2,175.3 L288.1,175.1 L290.0,174.7 L291.9,174.3 L293.7,173.7 L295.6,172.9 L297.5,171.9 L299.4,170.7 L301.3,169.2 L303.1,167.3 L305.0,165.0 L306.9,162.4 L308.8,159.3 L310.7,155.6 L312.6,151.5 L314.4,146.9 L316.3,141.9 L318.2,136.4 L320.1,130.5 L322.0,124.4 L323.8,118.1 L325.7,111.7 L327.6,105.5 L329.5,99.6 L331.4,94.0 L333.3,89.1 L335.1,85.0 L337.0,81.7 L338.9,79.4 L340.8,78.2 L342.7,78.1 L344.5,79.1 L346.4,81.2 L348.3,84.2 L350.2,88.2 L352.1,93.0 L353.9,98.4 L355.8,104.3 L357.7,110.5 L359.6,116.8 L361.5,123.1 L363.4,129.3 L365.2,135.2 L367.1,140.8 L369.0,146.0 L370.9,150.7 L372.8,154.9 L374.6,158.6 L376.5,161.8 L378.4,164.5 L380.3,166.9 L382.2,168.8 L384.0,170.4 L385.9,171.7 L387.8,172.7 L389.7,173.5 L391.6,174.2 L393.5,174.6 L395.3,175.0 L397.2,175.3"/>
<path d="M290.0,175.2 L291.9,174.9 L293.7,174.5 L295.6,173.9 L297.5,173.2 L299.4,172.2 L301.3,171.0 L303.1,169.4 L305.0,167.5 L306.9,165.1 L308.8,162.3 L310.7,159.0 L312.6,155.1 L314.4,150.7 L316.3,145.6 L318.2,140.1 L320.1,134.0 L322.0,127.5 L323.8,120.7 L325.7,113.8 L327.6,106.8 L329.5,100.0 L331.4,93.5 L333.3,87.7 L335.1,82.5 L337.0,78.3 L338.9,75.2 L340.8,73.2 L342.7,72.5 L344.5,73.1 L346.4,74.9 L348.3,78.0 L350.2,82.1 L352.1,87.2 L353.9,93.0 L355.8,99.4 L357.7,106.2 L359.6,113.1 L361.5,120.1 L363.4,126.9 L365.2,133.4 L367.1,139.5 L369.0,145.2 L370.9,150.2 L372.8,154.7 L374.6,158.7 L376.5,162.0 L378.4,164.9 L380.3,167.3 L382.2,169.2 L384.0,170.8 L385.9,172.1 L387.8,173.1 L389.7,173.8 L391.6,174.4 L393.5,174.9 L395.3,175.2"/>
<path d="M288.1,175.3 L290.0,175.0 L291.9,174.6 L293.7,174.1 L295.6,173.4 L297.5,172.5 L299.4,171.3 L301.3,169.9 L303.1,168.1 L305.0,166.0 L306.9,163.4 L308.8,160.3 L310.7,156.7 L312.6,152.6 L314.4,147.9 L316.3,142.7 L318.2,137.0 L320.1,130.8 L322.0,124.3 L323.8,117.7 L325.7,110.9 L327.6,104.2 L329.5,97.8 L331.4,91.9 L333.3,86.6 L335.1,82.1 L337.0,78.5 L338.9,76.0 L340.8,74.8 L342.7,74.7 L344.5,75.8 L346.4,78.2 L348.3,81.6 L350.2,86.0 L352.1,91.2 L353.9,97.1 L355.8,103.5 L357.7,110.1 L359.6,116.9 L361.5,123.6 L363.4,130.1 L365.2,136.3 L367.1,142.0 L369.0,147.3 L370.9,152.0 L372.8,156.3 L374.6,159.9 L376.5,163.1 L378.4,165.7 L380.3,167.9 L382.2,169.7 L384.0,171.2 L385.9,172.4 L387.8,173.3 L389.7,174.0 L391.6,174.5 L393.5,174.9 L395.3,175.2"/>
<path d="M288.1,175.4 L290.0,175.1 L291.9,174.8 L293.7,174.3 L295.6,173.7 L297.5,172.9 L299.4,171.9 L301.3,170.6 L303.1,169.0 L305.0,167.1 L306.9,164.7 L308.8,161.9 L310.7,158.5 L312.6,154.6 L314.4,150.2 L316.3,145.3 L318.2,139.8 L320.1,133.8 L322.0,127.5 L323.8,120.9 L325.7,114.1 L327.6,107.3 L329.5,100.7 L331.4,94.5 L333.3,88.8 L335.1,83.8 L337.0,79.6 L338.9,76.5 L340.8,74.6 L342.7,73.8 L344.5,74.2 L346.4,75.9 L348.3,78.7 L350.2,82.6 L352.1,87.3 L353.9,92.9 L355.8,99.0 L357.7,105.5 L359.6,112.3 L361.5,119.0 L363.4,125.7 L365.2,132.1 L367.1,138.2 L369.0,143.8 L370.9,148.9 L372.8,153.5 L374.6,157.5 L376.5,161.0 L378.4,164.0 L380.3,166.5 L382.2,168.5 L384.0,170.2 L385.9,171.6 L387.8,172.7 L389.7,173.5 L391.6,174.2 L393.5,174.7 L395.3,175.0 L397.2,175.3"/>
<path d="M288.1,175.2 L290.0,174.8 L291.9,174.4 L293.7,173.9 L295.6,173.2 L297.5,172.3 L299.4,171.1 L301.3,169.7 L303.1,168.0 L305.0,165.9 L306.9,163.4 L308.8,160.4 L310.7,157.0 L312.6,153.1 L314.4,148.7 L316.3,143.9 L318.2,138.6 L320.1,133.0 L322.0,127.0 L323.8,120.9 L325.7,114.7 L327.6,108.6 L329.5,102.7 L331.4,97.1 L333.3,92.2 L335.1,87.9 L337.0,84.5 L338.9,82.0 L340.8,80.5 L342.7,80.1 L344.5,80.8 L346.4,82.5 L348.3,85.3 L350.2,89.0 L352.1,93.4 L353.9,98.6 L355.8,104.2 L357.7,110.2 L359.6,116.4 L361.5,122.6 L363.4,128.6 L365.2,134.5 L367.1,140.1 L369.0,145.2 L370.9,150.0 L372.8,154.2 L374.6,158.0 L376.5,161.3 L378.4,164.1 L380.3,166.5 L382.2,168.5 L384.0,170.1 L385.9,171.4 L387.8,172.5 L389.7,173.4 L391.6,174.0 L393.5,174.6 L395.3,174.9 L397.2,175.2"/>
<path d="M288.1,175.3 L290.0,175.0 L291.9,174.6 L293.7,174.1 L295.6,173.4 L297.5,172.6 L299.4,171.5 L301.3,170.1 L303.1,168.4 L305.0,166.3 L306.9,163.8 L308.8,160.8 L310.7,157.4 L312.6,153.4 L314.4,148.9 L316.3,143.9 L318.2,138.4 L320.1,132.4 L322.0,126.2 L323.8,119.7 L325.7,113.1 L327.6,106.6 L329.5,100.3 L331.4,94.4 L333.3,89.1 L335.1,84.6 L337.0,80.9 L338.9,78.3 L340.8,76.8 L342.7,76.5 L344.5,77.3 L346.4,79.3 L348.3,82.4 L350.2,86.4 L352.1,91.3 L353.9,96.9 L355.8,102.9 L357.7,109.3 L359.6,115.9 L361.5,122.5 L363.4,128.9 L365.2,135.0 L367.1,140.7 L369.0,146.1 L370.9,150.9 L372.8,155.1 L374.6,158.9 L376.5,162.2 L378.4,164.9 L380.3,167.2 L382.2,169.1 L384.0,170.7 L385.9,172.0 L387.8,173.0 L389.7,173.7 L391.6,174.3 L393.5,174.8 L395.3,175.1 L397.2,175.4"/>
<path d="M288.1,175.3 L290.0,175.0 L291.9,174.7 L293.7,174.2 L295.6,173.5 L297.5,172.7 L299.4,171.6 L301.3,170.3 L303.1,168.7 L305.0,166.7 L306.9,164.3 L308.8,161.4 L310.7,158.1 L312.6,154.2 L314.4,149.9 L316.3,145.1 L318.2,139.8 L320.1,134.1 L322.0,128.1 L323.8,121.9 L325.7,115.6 L327.6,109.3 L329.5,103.4 L331.4,97.8 L333.3,92.8 L335.1,88.6 L337.0,85.2 L338.9,82.8 L340.8,81.5 L342.7,81.4 L344.5,82.3 L346.4,84.4 L348.3,87.5 L350.2,91.5 L352.1,96.2 L353.9,101.7 L355.8,107.5 L357.7,113.7 L359.6,120.0 L361.5,126.2 L363.4,132.3 L365.2,138.1 L367.1,143.5 L369.0,148.5 L370.9,153.0 L372.8,157.0 L374.6,160.5 L376.5,163.5 L378.4,166.0 L380.3,168.1 L382.2,169.9 L384.0,171.3 L385.9,172.4 L387.8,173.3 L389.7,174.0 L391.6,174.5 L393.5,174.9 L395.3,175.2"/>
<path d="M288.1,175.2 L290.0,174.9 L291.9,174.4 L293.7,173.9 L295.6,173.2 L297.5,172.2 L299.4,171.1 L301.3,169.6 L303.1,167.9 L305.0,165.7 L306.9,163.1 L308.8,160.1 L310.7,156.6 L312.6,152.5 L314.4,148.0 L316.3,142.9 L318.2,137.4 L320.1,131.5 L322.0,125.2 L323.8,118.8 L325.7,112.2 L327.6,105.7 L329.5,99.4 L331.4,93.5 L333.3,88.1 L335.1,83.5 L337.0,79.8 L338.9,77.0 L340.8,75.3 L342.7,74.8 L344.5,75.4 L346.4,77.1 L348.3,79.9 L350.2,83.7 L352.1,88.4 L353.9,93.7 L355.8,99.7 L357.7,106.0 L359.6,112.5 L361.5,119.0 L363.4,125.5 L365.2,131.8 L367.1,137.7 L369.0,143.2 L370.9,148.2 L372.8,152.7 L374.6,156.7 L376.5,160.2 L378.4,163.3 L380.3,165.8 L382.2,167.9 L384.0,169.7 L385.9,171.1 L387.8,172.3 L389.7,173.2 L391.6,173.9 L393.5,174.5 L395.3,174.9 L397.2,175.2"/>
<path d="M288.1,175.3 L290.0,175.0 L291.9,174.7 L293.7,174.2 L295.6,173.5 L297.5,172.7 L299.4,171.6 L301.3,170.2 L303.1,168.5 L305.0,166.4 L306.9,163.9 L308.8,160.9 L310.7,157.4 L312.6,153.3 L314.4,148.7 L316.3,143.6 L318.2,137.9 L320.1,131.8 L322.0,125.3 L323.8,118.5 L325.7,111.6 L327.6,104.8 L329.5,98.1 L331.4,91.9 L333.3,86.2 L335.1,81.3 L337.0,77.4 L338.9,74.5 L340.8,72.7 L342.7,72.2 L344.5,72.9 L346.4,74.9 L348.3,78.0 L350.2,82.1 L352.1,87.2 L353.9,92.9 L355.8,99.3 L357.7,106.0 L359.6,112.8 L361.5,119.7 L363.4,126.4 L365.2,132.9 L367.1,138.9 L369.0,144.5 L370.9,149.6 L372.8,154.1 L374.6,158.1 L376.5,161.5 L378.4,164.4 L380.3,166.8 L382.2,168.8 L384.0,170.5 L385.9,171.8 L387.8,172.8 L389.7,173.6 L391.6,174.3 L393.5,174.7 L395.3,175.1 L397.2,175.4"/>
<path d="M288.1,175.3 L290.0,175.0 L291.9,174.6 L293.7,174.1 L295.6,173.5 L297.5,172.6 L299.4,171.6 L301.3,170.2 L303.1,168.6 L305.0,166.6 L306.9,164.2 L308.8,161.4 L310.7,158.0 L312.6,154.2 L314.4,149.9 L316.3,145.0 L318.2,139.7 L320.1,134.0 L322.0,127.9 L323.8,121.6 L325.7,115.1 L327.6,108.7 L329.5,102.5 L331.4,96.6 L333.3,91.2 L335.1,86.5 L337.0,82.6 L338.9,79.6 L340.8,77.8 L342.7,77.0 L344.5,77.4 L346.4,78.9 L348.3,81.5 L350.2,85.1 L352.1,89.5 L353.9,94.7 L355.8,100.4 L357.7,106.6 L359.6,113.0 L361.5,119.4 L363.4,125.8 L365.2,132.0 L367.1,137.8 L369.0,143.3 L370.9,148.3 L372.8,152.8 L374.6,156.8 L376.5,160.3 L378.4,163.3 L380.3,165.8 L382.2,168.0 L384.0,169.7 L385.9,171.2 L387.8,172.3 L389.7,173.2 L391.6,173.9 L393.5,174.5 L395.3,174.9 L397.2,175.2"/>
<path d="M290.0,175.2 L291.9,174.9 L293.7,174.4 L295.6,173.9 L297.5,173.1 L299.4,172.2 L301.3,171.0 L303.1,169.5 L305.0,167.7 L306.9,165.5 L308.8,162.9 L310.7,159.7 L312.6,156.1 L314.4,152.0 L316.3,147.4 L318.2,142.3 L320.1,136.7 L322.0,130.8 L323.8,124.5 L325.7,118.2 L327.6,111.8 L329.5,105.6 L331.4,99.7 L333.3,94.3 L335.1,89.5 L337.0,85.6 L338.9,82.6 L340.8,80.6 L342.7,79.8 L344.5,80.2 L346.4,81.6 L348.3,84.2 L350.2,87.7 L352.1,92.2 L353.9,97.3 L355.8,103.0 L357.7,109.1 L359.6,115.5 L361.5,121.9 L363.4,128.1 L365.2,134.2 L367.1,139.9 L369.0,145.3 L370.9,150.1 L372.8,154.4 L374.6,158.3 L376.5,161.6 L378.4,164.4 L380.3,166.8 L382.2,168.8 L384.0,170.4 L385.9,171.7 L387.8,172.8 L389.7,173.6 L391.6,174.2 L393.5,174.7 L395.3,175.1 L397.2,175.3"/>
<path d="M288.1,175.2 L290.0,174.9 L291.9,174.5 L293.7,173.9 L295.6,173.3 L297.5,172.4 L299.4,171.2 L301.3,169.8 L303.1,168.1 L305.0,166.0 L306.9,163.5 L308.8,160.5 L310.7,157.0 L312.6,153.1 L314.4,148.6 L316.3,143.6 L318.2,138.2 L320.1,132.4 L322.0,126.2 L323.8,119.9 L325.7,113.4 L327.6,107.0 L329.5,100.8 L331.4,95.0 L333.3,89.7 L335.1,85.2 L337.0,81.5 L338.9,78.8 L340.8,77.2 L342.7,76.7 L344.5,77.3 L346.4,79.0 L348.3,81.8 L350.2,85.6 L352.1,90.2 L353.9,95.5 L355.8,101.4 L357.7,107.6 L359.6,114.0 L361.5,120.5 L363.4,126.8 L365.2,132.9 L367.1,138.7 L369.0,144.1 L370.9,149.0 L372.8,153.5 L374.6,157.4 L376.5,160.8 L378.4,163.7 L380.3,166.2 L382.2,168.3 L384.0,170.0 L385.9,171.3 L387.8,172.4 L389.7,173.3 L391.6,174.0 L393.5,174.5 L395.3,174.9 L397.2,175.2"/>
<path d="M284.3,175.4 L286.2,175.1 L288.1,174.8 L290.0,174.4 L291.9,173.9 L293.7,173.2 L295.6,172.4 L297.5,171.4 L299.4,170.1 L301.3,168.5 L303.1,166.7 L305.0,164.5 L306.9,162.0 L308.8,159.0 L310.7,155.6 L312.6,151.9 L314.4,147.7 L316.3,143.1 L318.2,138.2 L320.1,132.9 L322.0,127.5 L323.8,121.9 L325.7,116.3 L327.6,110.7 L329.5,105.4 L331.4,100.5 L333.3,96.0 L335.1,92.0 L337.0,88.8 L338.9,86.4 L340.8,84.9 L342.7,84.3 L344.5,84.6 L346.4,85.8 L348.3,87.9 L350.2,90.9 L352.1,94.6 L353.9,98.9 L355.8,103.7 L357.7,108.9 L359.6,114.4 L361.5,120.0 L363.4,125.6 L365.2,131.1 L367.1,136.4 L369.0,141.5 L370.9,146.2 L372.8,150.5 L374.6,154.4 L376.5,157.9 L378.4,161.0 L380.3,163.7 L382.2,166.0 L384.0,168.0 L385.9,169.6 L387.8,171.0 L389.7,172.1 L391.6,173.0 L393.5,173.7 L395.3,174.2 L397.2,174.7 L399.1,175.0 L401.0,175.3"/>
<path d="M288.1,175.2 L290.0,174.9 L291.9,174.4 L293.7,173.9 L295.6,173.2 L297.5,172.3 L299.4,171.1 L301.3,169.7 L303.1,167.9 L305.0,165.7 L306.9,163.2 L308.8,160.1 L310.7,156.6 L312.6,152.6 L314.4,148.1 L316.3,143.0 L318.2,137.5 L320.1,131.7 L322.0,125.5 L323.8,119.1 L325.7,112.6 L327.6,106.3 L329.5,100.1 L331.4,94.4 L333.3,89.3 L335.1,84.9 L337.0,81.3 L338.9,78.8 L340.8,77.4 L342.7,77.1 L344.5,77.9 L346.4,79.8 L348.3,82.8 L350.2,86.8 L352.1,91.5 L353.9,96.9 L355.8,102.9 L357.7,109.1 L359.6,115.5 L361.5,122.0 L363.4,128.3 L365.2,134.4 L367.1,140.1 L369.0,145.4 L370.9,150.2 L372.8,154.5 L374.6,158.3 L376.5,161.6 L378.4,164.4 L380.3,166.7 L382.2,168.7 L384.0,170.3 L385.9,171.7 L387.8,172.7 L389.7,173.5 L391.6,174.2 L393.5,174.6 L395.3,175.0 L397.2,175.3"/>
<path d="M288.1,175.2 L290.0,174.9 L291.9,174.5 L293.7,173.9 L295.6,173.2 L297.5,172.4 L299.4,171.3 L301.3,169.9 L303.1,168.2 L305.0,166.2 L306.9,163.7 L308.8,160.9 L310.7,157.5 L312.6,153.8 L314.4,149.5 L316.3,144.8 L318.2,139.6 L320.1,134.1 L322.0,128.4 L323.8,122.4 L325.7,116.4 L327.6,110.4 L329.5,104.7 L331.4,99.3 L333.3,94.5 L335.1,90.4 L337.0,87.0 L338.9,84.6 L340.8,83.2 L342.7,82.9 L344.5,83.6 L346.4,85.3 L348.3,88.0 L350.2,91.7 L352.1,96.0 L353.9,101.0 L355.8,106.5 L357.7,112.4 L359.6,118.4 L361.5,124.4 L363.4,130.3 L365.2,136.0 L367.1,141.4 L369.0,146.4 L370.9,151.0 L372.8,155.1 L374.6,158.7 L376.5,161.9 L378.4,164.6 L380.3,166.9 L382.2,168.8 L384.0,170.4 L385.9,171.7 L387.8,172.7 L389.7,173.5 L391.6,174.1 L393.5,174.6 L395.3,175.0 L397.2,175.3"/>
<path d="M288.1,175.3 L290.0,175.0 L291.9,174.6 L293.7,174.1 L295.6,173.4 L297.5,172.6 L299.4,171.5 L301.3,170.0 L303.1,168.3 L305.0,166.2 L306.9,163.6 L308.8,160.5 L310.7,156.9 L312.6,152.8 L314.4,148.1 L316.3,142.8 L318.2,137.1 L320.1,130.9 L322.0,124.3 L323.8,117.4 L325.7,110.5 L327.6,103.6 L329.5,97.0 L331.4,90.8 L333.3,85.2 L335.1,80.4 L337.0,76.5 L338.9,73.8 L340.8,72.2 L342.7,71.9 L344.5,72.8 L346.4,75.0 L348.3,78.3 L350.2,82.6 L352.1,87.8 L353.9,93.7 L355.8,100.1 L357.7,106.9 L359.6,113.9 L361.5,120.8 L363.4,127.5 L365.2,133.9 L367.1,139.9 L369.0,145.4 L370.9,150.4 L372.8,154.9 L374.6,158.7 L376.5,162.1 L378.4,164.9 L380.3,167.2 L382.2,169.2 L384.0,170.8 L385.9,172.0 L387.8,173.0 L389.7,173.8 L391.6,174.4 L393.5,174.8 L395.3,175.2"/>
<path d="M290.0,175.3 L291.9,175.0 L293.7,174.6 L295.6,174.1 L297.5,173.4 L299.4,172.5 L301.3,171.3 L303.1,169.8 L305.0,168.0 L306.9,165.7 L308.8,162.9 L310.7,159.5 L312.6,155.6 L314.4,151.1 L316.3,146.0 L318.2,140.3 L320.1,134.1 L322.0,127.4 L323.8,120.3 L325.7,113.1 L327.6,105.8 L329.5,98.8 L331.4,92.0 L333.3,85.9 L335.1,80.6 L337.0,76.3 L338.9,73.1 L340.8,71.1 L342.7,70.6 L344.5,71.3 L346.4,73.4 L348.3,76.8 L350.2,81.3 L352.1,86.7 L353.9,92.9 L355.8,99.7 L357.7,106.8 L359.6,114.1 L361.5,121.3 L363.4,128.3 L365.2,134.9 L367.1,141.1 L369.0,146.7 L370.9,151.7 L372.8,156.2 L374.6,160.0 L376.5,163.3 L378.4,166.0 L380.3,168.2 L382.2,170.0 L384.0,171.5 L385.9,172.6 L387.8,173.5 L389.7,174.2 L391.6,174.7 L393.5,175.1 L395.3,175.4"/>
<path d="M288.1,175.3 L290.0,175.0 L291.9,174.7 L293.7,174.2 L295.6,173.5 L297.5,172.6 L299.4,171.5 L301.3,170.0 L303.1,168.2 L305.0,166.0 L306.9,163.4 L308.8,160.2 L310.7,156.5 L312.6,152.2 L314.4,147.3 L316.3,141.9 L318.2,135.9 L320.1,129.5 L322.0,122.7 L323.8,115.7 L325.7,108.6 L327.6,101.7 L329.5,95.0 L331.4,88.8 L333.3,83.4 L335.1,78.8 L337.0,75.3 L338.9,73.0 L340.8,71.9 L342.7,72.2 L344.5,73.7 L346.4,76.5 L348.3,80.4 L350.2,85.3 L352.1,91.0 L353.9,97.4 L355.8,104.2 L357.7,111.2 L359.6,118.3 L361.5,125.2 L363.4,131.9 L365.2,138.1 L367.1,143.9 L369.0,149.2 L370.9,153.8 L372.8,157.9 L374.6,161.4 L376.5,164.4 L378.4,166.9 L380.3,168.9 L382.2,170.6 L384.0,171.9 L385.9,172.9 L387.8,173.7 L389.7,174.4 L391.6,174.8 L393.5,175.2"/>
<path d="M286.2,175.4 L288.1,175.1 L290.0,174.8 L291.9,174.4 L293.7,173.8 L295.6,173.1 L297.5,172.2 L299.4,171.1 L301.3,169.7 L303.1,168.0 L305.0,165.9 L306.9,163.5 L308.8,160.6 L310.7,157.2 L312.6,153.5 L314.4,149.2 L316.3,144.5 L318.2,139.4 L320.1,133.9 L322.0,128.2 L323.8,122.2 L325.7,116.3 L327.6,110.4 L329.5,104.7 L331.4,99.4 L333.3,94.6 L335.1,90.5 L337.0,87.2 L338.9,84.8 L340.8,83.4 L342.7,83.0 L344.5,83.6 L346.4,85.3 L348.3,88.0 L350.2,91.5 L352.1,95.8 L353.9,100.7 L355.8,106.1 L357.7,111.9 L359.6,117.8 L361.5,123.8 L363.4,129.7 L365.2,135.4 L367.1,140.7 L369.0,145.7 L370.9,150.3 L372.8,154.5 L374.6,158.2 L376.5,161.4 L378.4,164.1 L380.3,166.5 L382.2,168.5 L384.0,170.1 L385.9,171.4 L387.8,172.5 L389.7,173.3 L391.6,174.0 L393.5,174.5 L395.3,174.9 L397.2,175.2"/>
<path d="M290.0,175.3 L291.9,175.0 L293.7,174.7 L295.6,174.1 L297.5,173.4 L299.4,172.5 L301.3,171.3 L303.1,169.8 L305.0,167.8 L306.9,165.5 L308.8,162.6 L310.7,159.2 L312.6,155.2 L314.4,150.6 L316.3,145.3 L318.2,139.5 L320.1,133.1 L322.0,126.2 L323.8,119.0 L325.7,111.7 L327.6,104.3 L329.5,97.1 L331.4,90.3 L333.3,84.2 L335.1,78.9 L337.0,74.6 L338.9,71.6 L340.8,69.9 L342.7,69.5 L344.5,70.6 L346.4,73.0 L348.3,76.7 L350.2,81.5 L352.1,87.2 L353.9,93.7 L355.8,100.7 L357.7,108.0 L359.6,115.4 L361.5,122.7 L363.4,129.8 L365.2,136.4 L367.1,142.6 L369.0,148.1 L370.9,153.0 L372.8,157.3 L374.6,161.0 L376.5,164.2 L378.4,166.8 L380.3,168.9 L382.2,170.6 L384.0,171.9 L385.9,173.0 L387.8,173.8 L389.7,174.4 L391.6,174.9 L393.5,175.2"/>
<path d="M288.1,175.2 L290.0,174.9 L291.9,174.5 L293.7,173.9 L295.6,173.2 L297.5,172.2 L299.4,171.0 L301.3,169.5 L303.1,167.6 L305.0,165.4 L306.9,162.6 L308.8,159.4 L310.7,155.6 L312.6,151.3 L314.4,146.4 L316.3,141.0 L318.2,135.1 L320.1,128.8 L322.0,122.2 L323.8,115.4 L325.7,108.6 L327.6,102.0 L329.5,95.6 L331.4,89.8 L333.3,84.7 L335.1,80.5 L337.0,77.3 L338.9,75.3 L340.8,74.5 L342.7,74.9 L344.5,76.5 L346.4,79.3 L348.3,83.1 L350.2,87.9 L352.1,93.5 L353.9,99.6 L355.8,106.2 L357.7,113.0 L359.6,119.8 L361.5,126.5 L363.4,132.9 L365.2,138.9 L367.1,144.5 L369.0,149.6 L370.9,154.1 L372.8,158.1 L374.6,161.5 L376.5,164.4 L378.4,166.9 L380.3,168.9 L382.2,170.5 L384.0,171.8 L385.9,172.9 L387.8,173.7 L389.7,174.3 L391.6,174.8 L393.5,175.1 L395.3,175.4"/>
<path d="M286.2,175.3 L288.1,175.1 L290.0,174.7 L291.9,174.3 L293.7,173.7 L295.6,172.9 L297.5,171.9 L299.4,170.7 L301.3,169.2 L303.1,167.3 L305.0,165.1 L306.9,162.4 L308.8,159.3 L310.7,155.7 L312.6,151.5 L314.4,146.9 L316.3,141.8 L318.2,136.2 L320.1,130.2 L322.0,123.9 L323.8,117.4 L325.7,110.8 L327.6,104.3 L329.5,98.1 L331.4,92.2 L333.3,86.9 L335.1,82.3 L337.0,78.6 L338.9,75.8 L340.8,74.1 L342.7,73.6 L344.5,74.2 L346.4,75.9 L348.3,78.7 L350.2,82.4 L352.1,87.0 L353.9,92.4 L355.8,98.3 L357.7,104.5 L359.6,111.0 L361.5,117.6 L363.4,124.1 L365.2,130.4 L367.1,136.4 L369.0,141.9 L370.9,147.1 L372.8,151.7 L374.6,155.8 L376.5,159.4 L378.4,162.5 L380.3,165.2 L382.2,167.4 L384.0,169.2 L385.9,170.7 L387.8,172.0 L389.7,172.9 L391.6,173.7 L393.5,174.3 L395.3,174.7 L397.2,175.1 L399.1,175.3"/>
<path d="M288.1,175.2 L290.0,174.9 L291.9,174.5 L293.7,174.0 L295.6,173.3 L297.5,172.5 L299.4,171.4 L301.3,170.0 L303.1,168.3 L305.0,166.3 L306.9,163.9 L308.8,161.1 L310.7,157.8 L312.6,154.0 L314.4,149.7 L316.3,145.0 L318.2,139.9 L320.1,134.4 L322.0,128.6 L323.8,122.6 L325.7,116.5 L327.6,110.6 L329.5,104.8 L331.4,99.4 L333.3,94.6 L335.1,90.5 L337.0,87.2 L338.9,84.8 L340.8,83.4 L342.7,83.1 L344.5,83.8 L346.4,85.6 L348.3,88.4 L350.2,92.1 L352.1,96.5 L353.9,101.6 L355.8,107.1 L357.7,113.0 L359.6,119.0 L361.5,125.0 L363.4,130.9 L365.2,136.6 L367.1,142.0 L369.0,147.0 L370.9,151.5 L372.8,155.6 L374.6,159.2 L376.5,162.3 L378.4,164.9 L380.3,167.2 L382.2,169.1 L384.0,170.6 L385.9,171.8 L387.8,172.8 L389.7,173.6 L391.6,174.2 L393.5,174.7 L395.3,175.1 L397.2,175.3"/>
</g>
<path d="M270.2,176.0 L271.2,176.0 L272.1,176.0 L273.0,175.9 L274.0,175.9 L274.9,175.9 L275.9,175.9 L276.8,175.9 L277.8,175.8 L278.7,175.8 L279.6,175.8 L280.6,175.7 L281.5,175.7 L282.5,175.6 L283.4,175.5 L284.3,175.4 L285.3,175.3 L286.2,175.2 L287.2,175.1 L288.1,174.9 L289.0,174.7 L290.0,174.5 L290.9,174.2 L291.9,173.9 L292.8,173.6 L293.7,173.2 L294.7,172.8 L295.6,172.3 L296.6,171.8 L297.5,171.2 L298.4,170.5 L299.4,169.8 L300.3,169.0 L301.3,168.1 L302.2,167.0 L303.1,165.9 L304.1,164.7 L305.0,163.4 L306.0,162.0 L306.9,160.4 L307.9,158.7 L308.8,156.9 L309.7,155.0 L310.7,152.9 L311.6,150.7 L312.6,148.3 L313.5,145.8 L314.4,143.2 L315.4,140.5 L316.3,137.6 L317.3,134.6 L318.2,131.5 L319.1,128.4 L320.1,125.1 L321.0,121.8 L322.0,118.4 L322.9,114.9 L323.8,111.4 L324.8,108.0 L325.7,104.5 L326.7,101.1 L327.6,97.7 L328.5,94.4 L329.5,91.2 L330.4,88.2 L331.4,85.2 L332.3,82.5 L333.3,79.9 L334.2,77.5 L335.1,75.4 L336.1,73.5 L337.0,71.8 L338.0,70.4 L338.9,69.3 L339.8,68.5 L340.8,67.9 L341.7,67.7 L342.7,67.7 L343.6,67.9 L344.5,68.5 L345.5,69.3 L346.4,70.4 L347.4,71.8 L348.3,73.5 L349.2,75.4 L350.2,77.6 L351.1,80.0 L352.1,82.5 L353.0,85.3 L353.9,88.2 L354.9,91.3 L355.8,94.5 L356.8,97.8 L357.7,101.2 L358.6,104.6 L359.6,108.1 L360.5,111.5 L361.5,115.0 L362.4,118.4 L363.4,121.8 L364.3,125.2 L365.2,128.4 L366.2,131.6 L367.1,134.7 L368.1,137.7 L369.0,140.5 L369.9,143.3 L370.9,145.9 L371.8,148.4 L372.8,150.7 L373.7,152.9 L374.6,155.0 L375.6,156.9 L376.5,158.8 L377.5,160.4 L378.4,162.0 L379.3,163.4 L380.3,164.8 L381.2,166.0 L382.2,167.1 L383.1,168.1 L384.0,169.0 L385.0,169.8 L385.9,170.6 L386.9,171.2 L387.8,171.8 L388.7,172.3 L389.7,172.8 L390.6,173.2 L391.6,173.6 L392.5,173.9 L393.5,174.2 L394.4,174.5 L395.3,174.7 L396.3,174.9 L397.2,175.1 L398.2,175.2 L399.1,175.3 L400.0,175.4 L401.0,175.5 L401.9,175.6 L402.9,175.7 L403.8,175.7 L404.7,175.8 L405.7,175.8 L406.6,175.8 L407.6,175.9 L407.6,175.9 L406.6,175.9 L405.7,175.9 L404.7,175.9 L403.8,175.9 L402.9,175.9 L401.9,175.8 L401.0,175.8 L400.0,175.7 L399.1,175.7 L398.2,175.6 L397.2,175.5 L396.3,175.5 L395.3,175.4 L394.4,175.2 L393.5,175.1 L392.5,174.9 L391.6,174.7 L390.6,174.5 L389.7,174.3 L388.7,174.0 L387.8,173.7 L386.9,173.3 L385.9,172.9 L385.0,172.4 L384.0,171.9 L383.1,171.2 L382.2,170.6 L381.2,169.8 L380.3,169.0 L379.3,168.1 L378.4,167.1 L377.5,166.0 L376.5,164.7 L375.6,163.4 L374.6,162.0 L373.7,160.4 L372.8,158.8 L371.8,157.0 L370.9,155.1 L369.9,153.0 L369.0,150.9 L368.1,148.6 L367.1,146.2 L366.2,143.7 L365.2,141.2 L364.3,138.5 L363.4,135.7 L362.4,132.9 L361.5,130.0 L360.5,127.0 L359.6,124.0 L358.6,121.1 L357.7,118.1 L356.8,115.1 L355.8,112.2 L354.9,109.4 L353.9,106.6 L353.0,104.0 L352.1,101.4 L351.1,99.1 L350.2,96.8 L349.2,94.8 L348.3,93.0 L347.4,91.4 L346.4,90.0 L345.5,88.9 L344.5,88.0 L343.6,87.4 L342.7,87.1 L341.7,87.1 L340.8,87.4 L339.8,88.0 L338.9,88.9 L338.0,90.0 L337.0,91.4 L336.1,93.0 L335.1,94.8 L334.2,96.8 L333.3,99.0 L332.3,101.4 L331.4,103.9 L330.4,106.5 L329.5,109.3 L328.5,112.1 L327.6,115.1 L326.7,118.0 L325.7,121.0 L324.8,124.0 L323.8,126.9 L322.9,129.9 L322.0,132.8 L321.0,135.6 L320.1,138.4 L319.1,141.1 L318.2,143.7 L317.3,146.2 L316.3,148.6 L315.4,150.8 L314.4,153.0 L313.5,155.0 L312.6,156.9 L311.6,158.7 L310.7,160.4 L309.7,162.0 L308.8,163.4 L307.9,164.7 L306.9,165.9 L306.0,167.0 L305.0,168.1 L304.1,169.0 L303.1,169.8 L302.2,170.6 L301.3,171.2 L300.3,171.8 L299.4,172.4 L298.4,172.9 L297.5,173.3 L296.6,173.7 L295.6,174.0 L294.7,174.3 L293.7,174.5 L292.8,174.7 L291.9,174.9 L290.9,175.1 L290.0,175.2 L289.0,175.4 L288.1,175.5 L287.2,175.5 L286.2,175.6 L285.3,175.7 L284.3,175.7 L283.4,175.8 L282.5,175.8 L281.5,175.9 L280.6,175.9 L279.6,175.9 L278.7,175.9 L277.8,175.9 L276.8,175.9 L275.9,176.0 L274.9,176.0 L274.0,176.0 L273.0,176.0 L272.1,176.0 L271.2,176.0 L270.2,176.0 Z" fill="#3636ff" stroke="#3636ff" stroke-width="0.8" stroke-linejoin="round"/>
<path d="M273.25,175.70 L279.99,175.20 L285.60,174.50 L290.99,173.00 L298.17,170.00 L304.10,165.50 L309.18,160.50 L313.80,154.20 L316.36,149.00 L318.09,142.40 L320.40,131.00 L323.21,118.70 L324.22,113.30 L326.69,105.00 L329.16,103.30 L331.62,94.20 L335.89,83.30 L340.83,68.30 L343.75,63.30 L345.99,70.00 L348.24,76.70 L350.71,81.50 L353.40,85.00 L355.87,87.50 L358.34,90.00 L359.91,95.00 L360.81,100.00 L361.71,113.30 L363.28,126.70 L366.65,140.00 L370.01,150.00 L372.71,161.70 L374.95,170.00 L376.52,172.00 L378.32,172.70 L382.14,172.50" stroke="#111" stroke-width="0.8" fill="none" stroke-linejoin="round"/>
<path d="M242.95,176.00 L243.89,176.00 L244.83,176.00 L245.77,176.00 L246.71,176.00 L247.65,176.00 L248.59,176.00 L249.53,176.00 L250.47,176.00 L251.41,176.00 L252.35,176.00 L253.29,176.00 L254.24,176.00 L255.18,176.00 L256.12,176.00 L257.06,176.00 L258.00,176.00 L258.94,176.00 L259.88,176.00 L260.82,176.00 L261.76,176.00 L262.70,176.00 L263.64,176.00 L264.58,176.00 L265.52,175.99 L266.46,175.99 L267.40,175.99 L268.35,175.99 L269.29,175.99 L270.23,175.98 L271.17,175.98 L272.11,175.97 L273.05,175.97 L273.99,175.96 L274.93,175.95 L275.87,175.94 L276.81,175.92 L277.75,175.90 L278.69,175.88 L279.63,175.86 L280.57,175.83 L281.51,175.79 L282.46,175.75 L283.40,175.69 L284.34,175.63 L285.28,175.56 L286.22,175.48 L287.16,175.37 L288.10,175.26 L289.04,175.12 L289.98,174.96 L290.92,174.78 L291.86,174.57 L292.80,174.32 L293.74,174.05 L294.68,173.73 L295.62,173.36 L296.56,172.95 L297.51,172.49 L298.45,171.96 L299.39,171.37 L300.33,170.72 L301.27,169.98 L302.21,169.16 L303.15,168.26 L304.09,167.26 L305.03,166.16 L305.97,164.96 L306.91,163.64 L307.85,162.21 L308.79,160.66 L309.73,158.99 L310.67,157.18 L311.62,155.25 L312.56,153.19 L313.50,151.00 L314.44,148.68 L315.38,146.23 L316.32,143.66 L317.26,140.97 L318.20,138.17 L319.14,135.26 L320.08,132.26 L321.02,129.18 L321.96,126.03 L322.90,122.83 L323.84,119.58 L324.78,116.32 L325.73,113.05 L326.67,109.81 L327.61,106.60 L328.55,103.45 L329.49,100.38 L330.43,97.41 L331.37,94.57 L332.31,91.88 L333.25,89.36 L334.19,87.02 L335.13,84.89 L336.07,82.98 L337.01,81.32 L337.95,79.91 L338.89,78.77 L339.83,77.90 L340.78,77.32 L341.72,77.04 L342.66,77.04 L343.60,77.33 L344.54,77.92 L345.48,78.79 L346.42,79.94 L347.36,81.35 L348.30,83.02 L349.24,84.93 L350.18,87.07 L351.12,89.41 L352.06,91.94 L353.00,94.63 L353.94,97.48 L354.89,100.44 L355.83,103.52 L356.77,106.67 L357.71,109.88 L358.65,113.12 L359.59,116.39 L360.53,119.65 L361.47,122.89 L362.41,126.10 L363.35,129.25 L364.29,132.33 L365.23,135.32 L366.17,138.23 L367.11,141.03 L368.05,143.72 L369.00,146.28 L369.94,148.73 L370.88,151.05 L371.82,153.24 L372.76,155.30 L373.70,157.22 L374.64,159.02 L375.58,160.70 L376.52,162.24 L377.46,163.67 L378.40,164.98 L379.34,166.19 L380.28,167.28 L381.22,168.28 L382.16,169.18 L383.11,170.00 L384.05,170.73 L384.99,171.39 L385.93,171.98 L386.87,172.50 L387.81,172.96 L388.75,173.37 L389.69,173.73 L390.63,174.05 L391.57,174.33 L392.51,174.57 L393.45,174.78 L394.39,174.97 L395.33,175.12 L396.27,175.26 L397.21,175.38 L398.16,175.48 L399.10,175.56 L400.04,175.63 L400.98,175.70 L401.92,175.75 L402.86,175.79 L403.80,175.83 L404.74,175.86 L405.68,175.88 L406.62,175.91 L407.56,175.92 L408.50,175.94 L409.44,175.95 L410.38,175.96 L411.32,175.97 L412.27,175.97 L413.21,175.98 L414.15,175.98 L415.09,175.99 L416.03,175.99 L416.97,175.99 L417.91,175.99 L418.85,175.99 L419.79,176.00 L420.73,176.00 L421.67,176.00 L422.61,176.00 L423.55,176.00 L424.49,176.00 L425.43,176.00 L426.38,176.00 L427.32,176.00 L428.26,176.00 L429.20,176.00 L430.14,176.00 L431.08,176.00" stroke="#f39650" stroke-width="1.7" fill="none" stroke-dasharray="3.2,2.4"/>
<text x="275.5" y="187.0" font-size="4.9" font-family='"Liberation Sans", sans-serif' fill="#3a3a3a" text-anchor="middle" stroke="#3a3a3a" stroke-width="0.05">0</text>
<text x="320.4" y="187.0" font-size="4.9" font-family='"Liberation Sans", sans-serif' fill="#3a3a3a" text-anchor="middle" stroke="#3a3a3a" stroke-width="0.05">2</text>
<text x="365.3" y="187.0" font-size="4.9" font-family='"Liberation Sans", sans-serif' fill="#3a3a3a" text-anchor="middle" stroke="#3a3a3a" stroke-width="0.05">4</text>
<text x="410.2" y="187.0" font-size="4.9" font-family='"Liberation Sans", sans-serif' fill="#3a3a3a" text-anchor="middle" stroke="#3a3a3a" stroke-width="0.05">6</text>
<path d="M246.90,333.57 L247.75,333.57 L248.60,333.56 L249.45,333.56 L250.30,333.55 L251.15,333.54 L252.00,333.53 L252.85,333.51 L253.70,333.50 L254.55,333.48 L255.40,333.46 L256.25,333.43 L257.10,333.40 L257.95,333.37 L258.80,333.33 L259.65,333.28 L260.50,333.23 L261.35,333.17 L262.20,333.10 L263.05,333.03 L263.90,332.94 L264.75,332.84 L265.60,332.72 L266.45,332.60 L267.30,332.45 L268.15,332.29 L269.00,332.11 L269.85,331.90 L270.70,331.67 L271.55,331.42 L272.40,331.14 L273.25,330.83 L274.10,330.48 L274.95,330.10 L275.80,329.68 L276.65,329.21 L277.50,328.71 L278.35,328.15 L279.20,327.55 L280.05,326.89 L280.90,326.17 L281.75,325.40 L282.60,324.56 L283.45,323.66 L284.30,322.69 L285.15,321.65 L286.00,320.53 L286.85,319.34 L287.70,318.07 L288.55,316.71 L289.40,315.28 L290.25,313.77 L291.10,312.17 L291.95,310.48 L292.80,308.72 L293.65,306.86 L294.50,304.93 L295.35,302.91 L296.20,300.81 L297.05,298.64 L297.90,296.39 L298.75,294.07 L299.60,291.68 L300.45,289.23 L301.30,286.72 L302.15,284.16 L303.00,281.55 L303.85,278.90 L304.70,276.22 L305.55,273.52 L306.40,270.80 L307.25,268.08 L308.10,265.35 L308.95,262.63 L309.80,259.94 L310.65,257.26 L311.50,254.63 L312.35,252.04 L313.20,249.51 L314.05,247.04 L314.90,244.64 L315.75,242.32 L316.60,240.10 L317.45,237.97 L318.30,235.94 L319.15,234.03 L320.00,232.23 L320.85,230.55 L321.70,229.00 L322.55,227.58 L323.40,226.30 L324.25,225.15 L325.10,224.14 L325.95,223.27 L326.80,222.54 L327.65,221.94 L328.50,221.48 L329.35,221.14 L330.20,220.92 L331.05,220.82 L331.90,220.80 L332.75,220.87 L333.60,221.04 L334.45,221.32 L335.30,221.73 L336.15,222.28 L337.00,222.95 L337.85,223.77 L338.70,224.72 L339.55,225.81 L340.40,227.04 L341.25,228.40 L342.10,229.90 L342.95,231.52 L343.80,233.27 L344.65,235.14 L345.50,237.12 L346.35,239.21 L347.20,241.40 L348.05,243.68 L348.90,246.04 L349.75,248.48 L350.60,250.99 L351.45,253.56 L352.30,256.17 L353.15,258.83 L354.00,261.52 L354.85,264.23 L355.70,266.95 L356.55,269.68 L357.40,272.40 L358.25,275.11 L359.10,277.80 L359.95,280.46 L360.80,283.09 L361.65,285.67 L362.50,288.20 L363.35,290.67 L364.20,293.09 L365.05,295.44 L365.90,297.72 L366.75,299.93 L367.60,302.06 L368.45,304.11 L369.30,306.08 L370.15,307.96 L371.00,309.77 L371.85,311.48 L372.70,313.12 L373.55,314.67 L374.40,316.14 L375.25,317.52 L376.10,318.82 L376.95,320.05 L377.80,321.19 L378.65,322.27 L379.50,323.27 L380.35,324.20 L381.20,325.06 L382.05,325.86 L382.90,326.60 L383.75,327.28 L384.60,327.91 L385.45,328.48 L386.30,329.01 L387.15,329.49 L388.00,329.93 L388.85,330.33 L389.70,330.69 L390.55,331.01 L391.40,331.31 L392.25,331.57 L393.10,331.81 L393.95,332.03 L394.80,332.22 L395.65,332.39 L396.50,332.54 L397.35,332.67 L398.20,332.79 L399.05,332.90 L399.90,332.99 L400.75,333.07 L401.60,333.14 L402.45,333.21 L403.30,333.26 L404.15,333.31 L405.00,333.35 L405.85,333.39 L406.70,333.42 L407.55,333.45 L408.40,333.47 L409.25,333.49 L410.10,333.51 L410.95,333.52 L411.80,333.53 L412.65,333.54 L413.50,333.55 L414.35,333.56 L415.20,333.57 L416.05,333.57" stroke="#231f20" stroke-width="1.05" fill="none" stroke-dasharray="2.6,1.6"/>
<path d="M270.40,332.00 L274.50,333.20 L278.70,333.40 L283.00,332.50 L286.90,331.60 L291.80,332.40 L296.00,330.50 L300.90,327.10 L305.80,322.20 L309.00,321.70 L312.40,315.60 L315.70,306.60 L319.80,300.00 L324.00,290.00 L328.60,277.00 L333.00,265.00 L337.00,253.50 L340.00,243.00 L342.00,236.80 L345.00,230.00 L348.00,225.50 L350.40,223.40 L352.50,224.50 L354.00,229.00 L356.00,233.50 L358.00,232.00 L360.00,226.00 L362.00,223.00 L364.00,225.50 L366.50,231.00 L368.80,240.00 L370.50,252.00 L372.00,259.00 L374.50,264.50 L377.00,270.00 L380.00,277.00 L383.50,285.00 L387.00,293.60 L389.50,302.00 L391.50,309.00 L393.30,314.20 L395.50,315.50 L397.50,315.80 L400.00,319.50 L403.00,324.00 L405.80,325.80 L409.20,326.70 L412.00,329.50 L415.00,331.70 L417.50,331.30 L420.00,331.60 L426.70,332.50 L435.80,333.30" stroke="#4b4bf0" stroke-width="1.0" fill="none" stroke-linejoin="round"/>
<text x="258.9" y="345.0" font-size="5.4" font-family='"Liberation Sans", sans-serif' fill="#3a3a3a" text-anchor="middle" stroke="#3a3a3a" stroke-width="0.05">0.47</text>
<text x="283.3" y="345.0" font-size="5.4" font-family='"Liberation Sans", sans-serif' fill="#3a3a3a" text-anchor="middle" stroke="#3a3a3a" stroke-width="0.05">0.48</text>
<text x="307.7" y="345.0" font-size="5.4" font-family='"Liberation Sans", sans-serif' fill="#3a3a3a" text-anchor="middle" stroke="#3a3a3a" stroke-width="0.05">0.49</text>
<text x="332.1" y="345.0" font-size="5.4" font-family='"Liberation Sans", sans-serif' fill="#3a3a3a" text-anchor="middle" stroke="#3a3a3a" stroke-width="0.05">0.50</text>
<text x="356.5" y="345.0" font-size="5.4" font-family='"Liberation Sans", sans-serif' fill="#3a3a3a" text-anchor="middle" stroke="#3a3a3a" stroke-width="0.05">0.51</text>
<text x="380.9" y="345.0" font-size="5.4" font-family='"Liberation Sans", sans-serif' fill="#3a3a3a" text-anchor="middle" stroke="#3a3a3a" stroke-width="0.05">0.52</text>
<text x="405.3" y="345.0" font-size="5.4" font-family='"Liberation Sans", sans-serif' fill="#3a3a3a" text-anchor="middle" stroke="#3a3a3a" stroke-width="0.05">0.53</text>
<text x="429.7" y="345.0" font-size="5.4" font-family='"Liberation Sans", sans-serif' fill="#3a3a3a" text-anchor="middle" stroke="#3a3a3a" stroke-width="0.05">0.54</text>
<text x="299.2" y="355.1" font-size="10.6" font-family='"Liberation Sans", sans-serif' fill="#231f20" textLength="89.1" lengthAdjust="spacingAndGlyphs" stroke="#231f20" stroke-width="0.08">Bayesian P-Value</text>
<text x="467.8" y="14.3" font-size="16.6" font-family='"Liberation Sans", sans-serif' fill="#231f20" textLength="13.6" lengthAdjust="spacingAndGlyphs" stroke="#231f20" stroke-width="0.08">C.</text>
<text x="509.1" y="27.1" font-size="18.2" font-family='"Liberation Sans", sans-serif' fill="#231f20" textLength="161.8" lengthAdjust="spacingAndGlyphs" stroke="#231f20" stroke-width="0.08">Group Comparisons</text>
<text x="566.7" y="57.8" font-size="11.0" font-family='"Liberation Sans", sans-serif' fill="#231f20" textLength="60.1" lengthAdjust="spacingAndGlyphs" stroke="#231f20" stroke-width="0.08">Young-Aged</text>
<line x1="480.30" y1="72.10" x2="480.30" y2="117.50" stroke="#f6ad72" stroke-width="1.1"/>
<line x1="479.50" y1="119.60" x2="713.80" y2="119.60" stroke="#555" stroke-width="1.4"/>
<line x1="480.10" y1="119.60" x2="480.10" y2="121.30" stroke="#555" stroke-width="0.8"/>
<text x="480.1" y="128.0" font-size="6.4" font-family='"Liberation Sans", sans-serif' fill="#333" text-anchor="middle" stroke="#333" stroke-width="0.15">0.00</text>
<line x1="513.46" y1="119.60" x2="513.46" y2="121.30" stroke="#555" stroke-width="0.8"/>
<text x="513.5" y="128.0" font-size="6.4" font-family='"Liberation Sans", sans-serif' fill="#333" text-anchor="middle" stroke="#333" stroke-width="0.15">0.05</text>
<line x1="546.82" y1="119.60" x2="546.82" y2="121.30" stroke="#555" stroke-width="0.8"/>
<text x="546.8" y="128.0" font-size="6.4" font-family='"Liberation Sans", sans-serif' fill="#333" text-anchor="middle" stroke="#333" stroke-width="0.15">0.10</text>
<line x1="580.18" y1="119.60" x2="580.18" y2="121.30" stroke="#555" stroke-width="0.8"/>
<text x="580.2" y="128.0" font-size="6.4" font-family='"Liberation Sans", sans-serif' fill="#333" text-anchor="middle" stroke="#333" stroke-width="0.15">0.15</text>
<line x1="613.54" y1="119.60" x2="613.54" y2="121.30" stroke="#555" stroke-width="0.8"/>
<text x="613.5" y="128.0" font-size="6.4" font-family='"Liberation Sans", sans-serif' fill="#333" text-anchor="middle" stroke="#333" stroke-width="0.15">0.20</text>
<line x1="646.90" y1="119.60" x2="646.90" y2="121.30" stroke="#555" stroke-width="0.8"/>
<text x="646.9" y="128.0" font-size="6.4" font-family='"Liberation Sans", sans-serif' fill="#333" text-anchor="middle" stroke="#333" stroke-width="0.15">0.25</text>
<line x1="680.26" y1="119.60" x2="680.26" y2="121.30" stroke="#555" stroke-width="0.8"/>
<text x="680.3" y="128.0" font-size="6.4" font-family='"Liberation Sans", sans-serif' fill="#333" text-anchor="middle" stroke="#333" stroke-width="0.15">0.30</text>
<line x1="713.62" y1="119.60" x2="713.62" y2="121.30" stroke="#555" stroke-width="0.8"/>
<text x="713.6" y="128.0" font-size="6.4" font-family='"Liberation Sans", sans-serif' fill="#333" text-anchor="middle" stroke="#333" stroke-width="0.15">0.35</text>
<path d="M582.30,116.80 C583.58,116.75 587.55,116.70 590.00,116.50 C592.45,116.30 595.00,115.97 597.00,115.60 C599.00,115.23 600.50,114.80 602.00,114.30 C603.50,113.80 604.72,113.25 606.00,112.60 C607.28,111.95 608.40,111.37 609.70,110.40 C611.00,109.43 612.50,108.10 613.80,106.80 C615.10,105.50 616.43,104.10 617.50,102.60 C618.57,101.10 619.38,99.42 620.20,97.80 C621.02,96.18 621.68,94.53 622.40,92.90 C623.12,91.27 623.85,89.63 624.50,88.00 C625.15,86.37 625.58,84.93 626.30,83.10 C627.02,81.27 627.98,78.95 628.80,77.00 C629.62,75.05 630.33,73.18 631.20,71.40 C632.07,69.62 633.03,67.75 634.00,66.30 C634.97,64.85 635.92,63.78 637.00,62.70 C638.08,61.62 639.35,60.45 640.50,59.80 C641.65,59.15 642.68,59.00 643.90,58.80 C645.12,58.60 646.50,58.60 647.80,58.60 C649.10,58.60 650.68,58.47 651.70,58.80 C652.72,59.13 653.25,59.80 653.90,60.60 C654.55,61.40 654.98,62.28 655.60,63.60 C656.22,64.92 656.95,66.87 657.60,68.50 C658.25,70.13 658.77,71.57 659.50,73.40 C660.23,75.23 661.20,77.55 662.00,79.50 C662.80,81.45 663.27,82.70 664.30,85.10 C665.33,87.50 667.08,91.55 668.20,93.90 C669.32,96.25 670.02,97.58 671.00,99.20 C671.98,100.82 672.93,102.22 674.10,103.60 C675.27,104.98 676.70,106.37 678.00,107.50 C679.30,108.63 680.48,109.52 681.90,110.40 C683.32,111.28 684.88,112.15 686.50,112.80 C688.12,113.45 689.45,113.88 691.60,114.30 C693.75,114.72 697.02,114.97 699.40,115.30 C701.78,115.63 704.82,116.13 705.90,116.30" stroke="#2a2ae8" stroke-width="1.8" fill="none" stroke-linejoin="round" stroke-linecap="round"/>
<line x1="610.70" y1="115.90" x2="679.90" y2="115.90" stroke="#444" stroke-width="1.9"/>
<text x="610.7" y="114.3" font-size="7.2" font-family='"Liberation Sans", sans-serif' fill="#231f20" textLength="10.7" lengthAdjust="spacingAndGlyphs" stroke="#231f20" stroke-width="0.15">0.2</text>
<text x="670.2" y="114.3" font-size="7.2" font-family='"Liberation Sans", sans-serif' fill="#231f20" textLength="9.7" lengthAdjust="spacingAndGlyphs" stroke="#231f20" stroke-width="0.15">0.3</text>
<text x="624.4" y="92.5" font-size="7.6" font-family='"Liberation Sans", sans-serif' fill="#231f20" textLength="40.9" lengthAdjust="spacingAndGlyphs" stroke="#231f20" stroke-width="0.15">MAP = 0.25</text>
<text x="630.2" y="98.7" font-size="6.8" font-family='"Liberation Sans", sans-serif' fill="#231f20" textLength="29.3" lengthAdjust="spacingAndGlyphs" stroke="#231f20" stroke-width="0.15">95% HDI</text>
<text x="541.5" y="150.5" font-size="11.0" font-family='"Liberation Sans", sans-serif' fill="#231f20" textLength="113.5" lengthAdjust="spacingAndGlyphs" stroke="#231f20" stroke-width="0.08">Young-Aged Effect Size</text>
<text x="534.9" y="174.5" font-size="10.4" font-family='"Liberation Sans", sans-serif' fill="#231f20" textLength="54.7" lengthAdjust="spacingAndGlyphs" stroke="#231f20" stroke-width="0.08">MAP = 0.057</text>
<text x="546.1" y="186.6" font-size="9.0" font-family='"Liberation Sans", sans-serif' fill="#231f20" textLength="34.8" lengthAdjust="spacingAndGlyphs" stroke="#231f20" stroke-width="0.15">95% HDI</text>
<line x1="482.30" y1="154.00" x2="482.30" y2="208.50" stroke="#f6ad72" stroke-width="1.1"/>
<line x1="488.00" y1="207.70" x2="638.70" y2="207.70" stroke="#111" stroke-width="1.5"/>
<path d="M496.30,136.80 L513.00,191.20 L529.60,202.60 L551.20,205.30 L578.30,208.00 L600.00,207.30 L620.00,207.60 L638.00,208.20 L660.00,208.80 L708.20,208.90" stroke="#2a2ae8" stroke-width="1.8" fill="none" stroke-linejoin="round"/>
<line x1="481.70" y1="212.40" x2="718.50" y2="212.00" stroke="#111" stroke-width="1.1"/>
<line x1="481.70" y1="212.30" x2="481.70" y2="214.00" stroke="#111" stroke-width="0.8"/>
<text x="481.7" y="222.3" font-size="7.8" font-family='"Liberation Sans", sans-serif' fill="#333" text-anchor="middle" stroke="#333" stroke-width="0.15">0.0</text>
<line x1="531.10" y1="212.30" x2="531.10" y2="214.00" stroke="#111" stroke-width="0.8"/>
<text x="531.1" y="222.3" font-size="7.8" font-family='"Liberation Sans", sans-serif' fill="#333" text-anchor="middle" stroke="#333" stroke-width="0.15">0.2</text>
<line x1="580.50" y1="212.30" x2="580.50" y2="214.00" stroke="#111" stroke-width="0.8"/>
<text x="580.5" y="222.3" font-size="7.8" font-family='"Liberation Sans", sans-serif' fill="#333" text-anchor="middle" stroke="#333" stroke-width="0.15">0.4</text>
<line x1="629.90" y1="212.30" x2="629.90" y2="214.00" stroke="#111" stroke-width="0.8"/>
<text x="629.9" y="222.3" font-size="7.8" font-family='"Liberation Sans", sans-serif' fill="#333" text-anchor="middle" stroke="#333" stroke-width="0.15">0.6</text>
<line x1="679.30" y1="212.30" x2="679.30" y2="214.00" stroke="#111" stroke-width="0.8"/>
<text x="679.3" y="222.3" font-size="7.8" font-family='"Liberation Sans", sans-serif' fill="#333" text-anchor="middle" stroke="#333" stroke-width="0.15">0.8</text>
<text x="484.1" y="204.9" font-size="7.8" font-family='"Liberation Sans", sans-serif' fill="#231f20" textLength="20.6" lengthAdjust="spacingAndGlyphs" stroke="#231f20" stroke-width="0.15">0.025</text>
<text x="629.7" y="205.8" font-size="7.8" font-family='"Liberation Sans", sans-serif' fill="#231f20" textLength="15.9" lengthAdjust="spacingAndGlyphs" stroke="#231f20" stroke-width="0.15">0.64</text>
<text x="529.4" y="247.5" font-size="11.2" font-family='"Liberation Sans", sans-serif' fill="#231f20" textLength="30.3" lengthAdjust="spacingAndGlyphs" stroke="#231f20" stroke-width="0.22">Young</text>
<text x="643.1" y="248.7" font-size="11.2" font-family='"Liberation Sans", sans-serif' fill="#231f20" textLength="25.4" lengthAdjust="spacingAndGlyphs" stroke="#231f20" stroke-width="0.22">Aged</text>
<line x1="493.40" y1="267.60" x2="596.90" y2="267.60" stroke="#b4b4b4" stroke-width="1.4"/>
<line x1="493.40" y1="298.80" x2="596.90" y2="298.80" stroke="#b4b4b4" stroke-width="1.4"/>
<line x1="493.40" y1="329.40" x2="596.90" y2="329.40" stroke="#4a4a4a" stroke-width="1.1"/>
<line x1="605.20" y1="267.60" x2="708.30" y2="267.60" stroke="#b4b4b4" stroke-width="1.4"/>
<line x1="605.20" y1="298.80" x2="708.30" y2="298.80" stroke="#b4b4b4" stroke-width="1.4"/>
<line x1="605.20" y1="329.40" x2="708.30" y2="329.40" stroke="#4a4a4a" stroke-width="1.1"/>
<text x="488.9" y="270.3" font-size="7.6" font-family='"Liberation Sans", sans-serif' fill="#231f20" text-anchor="middle">4</text>
<text x="488.9" y="301.5" font-size="7.6" font-family='"Liberation Sans", sans-serif' fill="#231f20" text-anchor="middle">2</text>
<text x="488.9" y="332.1" font-size="7.6" font-family='"Liberation Sans", sans-serif' fill="#231f20" text-anchor="middle">0</text>
<line x1="499.90" y1="286.20" x2="591.00" y2="278.00" stroke="#e82020" stroke-width="1.5"/>
<line x1="612.00" y1="289.80" x2="702.00" y2="282.30" stroke="#e82020" stroke-width="1.5"/>
<rect x="496.00" y="258.60" width="3.8" height="43.40" rx="1.9" fill="#0000ff"/>
<circle cx="497.90" cy="302.00" r="1.7" fill="none" stroke="#0000ff" stroke-width="0.8"/>
<circle cx="497.90" cy="304.60" r="1.7" fill="none" stroke="#0000ff" stroke-width="0.8"/>
<circle cx="497.90" cy="307.20" r="1.7" fill="none" stroke="#0000ff" stroke-width="0.8"/>
<circle cx="497.90" cy="309.80" r="1.7" fill="none" stroke="#0000ff" stroke-width="0.8"/>
<circle cx="497.90" cy="312.40" r="1.7" fill="none" stroke="#0000ff" stroke-width="0.8"/>
<circle cx="497.90" cy="325.00" r="1.65" fill="none" stroke="#0000ff" stroke-width="0.7"/>
<circle cx="497.90" cy="260.10" r="1.1" fill="#ccccff"/>
<rect x="514.90" y="258.60" width="3.8" height="43.40" rx="1.9" fill="#0000ff"/>
<circle cx="516.80" cy="302.00" r="1.7" fill="none" stroke="#0000ff" stroke-width="0.8"/>
<circle cx="516.80" cy="304.60" r="1.7" fill="none" stroke="#0000ff" stroke-width="0.8"/>
<circle cx="516.80" cy="307.20" r="1.7" fill="none" stroke="#0000ff" stroke-width="0.8"/>
<circle cx="516.80" cy="309.80" r="1.7" fill="none" stroke="#0000ff" stroke-width="0.8"/>
<circle cx="516.80" cy="316.30" r="1.65" fill="none" stroke="#0000ff" stroke-width="0.7"/>
<circle cx="516.80" cy="323.20" r="1.65" fill="none" stroke="#0000ff" stroke-width="0.7"/>
<circle cx="516.80" cy="260.10" r="1.1" fill="#ccccff"/>
<rect x="533.70" y="258.60" width="3.8" height="44.70" rx="1.9" fill="#0000ff"/>
<circle cx="535.60" cy="303.30" r="1.7" fill="none" stroke="#0000ff" stroke-width="0.8"/>
<circle cx="535.60" cy="305.90" r="1.7" fill="none" stroke="#0000ff" stroke-width="0.8"/>
<circle cx="535.60" cy="308.50" r="1.7" fill="none" stroke="#0000ff" stroke-width="0.8"/>
<circle cx="535.60" cy="311.10" r="1.7" fill="none" stroke="#0000ff" stroke-width="0.8"/>
<circle cx="535.60" cy="313.70" r="1.7" fill="none" stroke="#0000ff" stroke-width="0.8"/>
<circle cx="535.60" cy="318.30" r="1.65" fill="none" stroke="#0000ff" stroke-width="0.7"/>
<circle cx="535.60" cy="260.10" r="1.1" fill="#ccccff"/>
<rect x="552.60" y="258.60" width="3.8" height="44.00" rx="1.9" fill="#0000ff"/>
<circle cx="554.50" cy="302.60" r="1.7" fill="none" stroke="#0000ff" stroke-width="0.8"/>
<circle cx="554.50" cy="305.20" r="1.7" fill="none" stroke="#0000ff" stroke-width="0.8"/>
<circle cx="554.50" cy="307.80" r="1.7" fill="none" stroke="#0000ff" stroke-width="0.8"/>
<circle cx="554.50" cy="310.40" r="1.7" fill="none" stroke="#0000ff" stroke-width="0.8"/>
<circle cx="554.50" cy="313.00" r="1.7" fill="none" stroke="#0000ff" stroke-width="0.8"/>
<circle cx="554.50" cy="321.20" r="1.65" fill="none" stroke="#0000ff" stroke-width="0.7"/>
<circle cx="554.50" cy="260.10" r="1.1" fill="#ccccff"/>
<rect x="571.10" y="256.60" width="3.8" height="40.60" rx="1.9" fill="#0000ff"/>
<circle cx="573.00" cy="297.20" r="1.7" fill="none" stroke="#0000ff" stroke-width="0.8"/>
<circle cx="573.00" cy="299.80" r="1.7" fill="none" stroke="#0000ff" stroke-width="0.8"/>
<circle cx="573.00" cy="302.40" r="1.7" fill="none" stroke="#0000ff" stroke-width="0.8"/>
<circle cx="573.00" cy="305.00" r="1.7" fill="none" stroke="#0000ff" stroke-width="0.8"/>
<circle cx="573.00" cy="307.60" r="1.7" fill="none" stroke="#0000ff" stroke-width="0.8"/>
<circle cx="573.00" cy="310.20" r="1.7" fill="none" stroke="#0000ff" stroke-width="0.8"/>
<circle cx="573.00" cy="312.80" r="1.7" fill="none" stroke="#0000ff" stroke-width="0.8"/>
<circle cx="573.00" cy="258.10" r="1.1" fill="#ccccff"/>
<rect x="582.10" y="255.60" width="3.8" height="40.10" rx="1.9" fill="#0000ff"/>
<circle cx="584.00" cy="295.70" r="1.7" fill="none" stroke="#0000ff" stroke-width="0.8"/>
<circle cx="584.00" cy="298.30" r="1.7" fill="none" stroke="#0000ff" stroke-width="0.8"/>
<circle cx="584.00" cy="300.90" r="1.7" fill="none" stroke="#0000ff" stroke-width="0.8"/>
<circle cx="584.00" cy="303.50" r="1.7" fill="none" stroke="#0000ff" stroke-width="0.8"/>
<circle cx="584.00" cy="312.80" r="1.65" fill="none" stroke="#0000ff" stroke-width="0.7"/>
<circle cx="584.00" cy="257.10" r="1.1" fill="#ccccff"/>
<rect x="590.20" y="255.60" width="3.8" height="41.60" rx="1.9" fill="#0000ff"/>
<circle cx="592.10" cy="297.20" r="1.7" fill="none" stroke="#0000ff" stroke-width="0.8"/>
<circle cx="592.10" cy="299.80" r="1.7" fill="none" stroke="#0000ff" stroke-width="0.8"/>
<circle cx="592.10" cy="302.40" r="1.7" fill="none" stroke="#0000ff" stroke-width="0.8"/>
<circle cx="592.10" cy="305.00" r="1.7" fill="none" stroke="#0000ff" stroke-width="0.8"/>
<circle cx="592.10" cy="307.60" r="1.7" fill="none" stroke="#0000ff" stroke-width="0.8"/>
<circle cx="592.10" cy="310.20" r="1.7" fill="none" stroke="#0000ff" stroke-width="0.8"/>
<circle cx="592.10" cy="257.10" r="1.1" fill="#ccccff"/>
<rect x="608.00" y="261.80" width="3.8" height="46.10" rx="1.9" fill="#0000ff"/>
<circle cx="609.90" cy="307.90" r="1.7" fill="none" stroke="#0000ff" stroke-width="0.8"/>
<circle cx="609.90" cy="310.50" r="1.7" fill="none" stroke="#0000ff" stroke-width="0.8"/>
<circle cx="609.90" cy="313.10" r="1.7" fill="none" stroke="#0000ff" stroke-width="0.8"/>
<circle cx="609.90" cy="315.70" r="1.7" fill="none" stroke="#0000ff" stroke-width="0.8"/>
<circle cx="609.90" cy="318.30" r="1.7" fill="none" stroke="#0000ff" stroke-width="0.8"/>
<circle cx="609.90" cy="320.90" r="1.7" fill="none" stroke="#0000ff" stroke-width="0.8"/>
<circle cx="609.90" cy="323.50" r="1.7" fill="none" stroke="#0000ff" stroke-width="0.8"/>
<circle cx="609.90" cy="263.30" r="1.1" fill="#ccccff"/>
<rect x="626.80" y="261.80" width="3.8" height="49.20" rx="1.9" fill="#0000ff"/>
<circle cx="628.70" cy="311.00" r="1.7" fill="none" stroke="#0000ff" stroke-width="0.8"/>
<circle cx="628.70" cy="313.60" r="1.7" fill="none" stroke="#0000ff" stroke-width="0.8"/>
<circle cx="628.70" cy="316.20" r="1.7" fill="none" stroke="#0000ff" stroke-width="0.8"/>
<circle cx="628.70" cy="318.80" r="1.7" fill="none" stroke="#0000ff" stroke-width="0.8"/>
<circle cx="628.70" cy="321.40" r="1.7" fill="none" stroke="#0000ff" stroke-width="0.8"/>
<circle cx="628.70" cy="324.00" r="1.7" fill="none" stroke="#0000ff" stroke-width="0.8"/>
<circle cx="628.70" cy="326.60" r="1.7" fill="none" stroke="#0000ff" stroke-width="0.8"/>
<circle cx="628.70" cy="263.30" r="1.1" fill="#ccccff"/>
<rect x="645.50" y="261.80" width="3.8" height="44.60" rx="1.9" fill="#0000ff"/>
<circle cx="647.40" cy="306.40" r="1.7" fill="none" stroke="#0000ff" stroke-width="0.8"/>
<circle cx="647.40" cy="309.00" r="1.7" fill="none" stroke="#0000ff" stroke-width="0.8"/>
<circle cx="647.40" cy="311.60" r="1.7" fill="none" stroke="#0000ff" stroke-width="0.8"/>
<circle cx="647.40" cy="314.20" r="1.7" fill="none" stroke="#0000ff" stroke-width="0.8"/>
<circle cx="647.40" cy="316.80" r="1.7" fill="none" stroke="#0000ff" stroke-width="0.8"/>
<circle cx="647.40" cy="319.40" r="1.7" fill="none" stroke="#0000ff" stroke-width="0.8"/>
<circle cx="647.40" cy="326.40" r="1.65" fill="none" stroke="#0000ff" stroke-width="0.7"/>
<circle cx="647.40" cy="329.00" r="1.65" fill="none" stroke="#0000ff" stroke-width="0.7"/>
<circle cx="647.40" cy="263.30" r="1.1" fill="#ccccff"/>
<rect x="664.10" y="261.80" width="3.8" height="46.10" rx="1.9" fill="#0000ff"/>
<circle cx="666.00" cy="307.90" r="1.7" fill="none" stroke="#0000ff" stroke-width="0.8"/>
<circle cx="666.00" cy="310.50" r="1.7" fill="none" stroke="#0000ff" stroke-width="0.8"/>
<circle cx="666.00" cy="313.10" r="1.7" fill="none" stroke="#0000ff" stroke-width="0.8"/>
<circle cx="666.00" cy="315.70" r="1.7" fill="none" stroke="#0000ff" stroke-width="0.8"/>
<circle cx="666.00" cy="318.30" r="1.7" fill="none" stroke="#0000ff" stroke-width="0.8"/>
<circle cx="666.00" cy="320.90" r="1.7" fill="none" stroke="#0000ff" stroke-width="0.8"/>
<circle cx="666.00" cy="263.30" r="1.1" fill="#ccccff"/>
<rect x="682.90" y="261.80" width="3.8" height="42.30" rx="1.9" fill="#0000ff"/>
<circle cx="684.80" cy="304.10" r="1.7" fill="none" stroke="#0000ff" stroke-width="0.8"/>
<circle cx="684.80" cy="306.70" r="1.7" fill="none" stroke="#0000ff" stroke-width="0.8"/>
<circle cx="684.80" cy="309.30" r="1.7" fill="none" stroke="#0000ff" stroke-width="0.8"/>
<circle cx="684.80" cy="311.90" r="1.7" fill="none" stroke="#0000ff" stroke-width="0.8"/>
<circle cx="684.80" cy="263.30" r="1.1" fill="#ccccff"/>
<rect x="694.10" y="261.00" width="3.8" height="37.80" rx="1.9" fill="#0000ff"/>
<circle cx="696.00" cy="298.80" r="1.7" fill="none" stroke="#0000ff" stroke-width="0.8"/>
<circle cx="696.00" cy="301.40" r="1.7" fill="none" stroke="#0000ff" stroke-width="0.8"/>
<circle cx="696.00" cy="304.00" r="1.7" fill="none" stroke="#0000ff" stroke-width="0.8"/>
<circle cx="696.00" cy="309.90" r="1.65" fill="none" stroke="#0000ff" stroke-width="0.7"/>
<circle cx="696.00" cy="262.50" r="1.1" fill="#ccccff"/>
<rect x="701.90" y="260.60" width="3.8" height="38.90" rx="1.9" fill="#0000ff"/>
<circle cx="703.80" cy="299.50" r="1.7" fill="none" stroke="#0000ff" stroke-width="0.8"/>
<circle cx="703.80" cy="302.10" r="1.7" fill="none" stroke="#0000ff" stroke-width="0.8"/>
<circle cx="703.80" cy="304.70" r="1.7" fill="none" stroke="#0000ff" stroke-width="0.8"/>
<circle cx="703.80" cy="307.30" r="1.7" fill="none" stroke="#0000ff" stroke-width="0.8"/>
<circle cx="703.80" cy="309.90" r="1.7" fill="none" stroke="#0000ff" stroke-width="0.8"/>
<circle cx="703.80" cy="262.10" r="1.1" fill="#ccccff"/>
<text x="498.1" y="339.8" font-size="7.6" font-family='"Liberation Sans", sans-serif' fill="#231f20" text-anchor="middle" textLength="9.8" lengthAdjust="spacingAndGlyphs" stroke="#231f20" stroke-width="0.05">-30</text>
<text x="516.7" y="339.8" font-size="7.6" font-family='"Liberation Sans", sans-serif' fill="#231f20" text-anchor="middle" textLength="9.8" lengthAdjust="spacingAndGlyphs" stroke="#231f20" stroke-width="0.05">-24</text>
<text x="535.0" y="339.8" font-size="7.6" font-family='"Liberation Sans", sans-serif' fill="#231f20" text-anchor="middle" textLength="9.8" lengthAdjust="spacingAndGlyphs" stroke="#231f20" stroke-width="0.05">-18</text>
<text x="553.8" y="339.8" font-size="7.6" font-family='"Liberation Sans", sans-serif' fill="#231f20" text-anchor="middle" textLength="9.8" lengthAdjust="spacingAndGlyphs" stroke="#231f20" stroke-width="0.05">-12</text>
<text x="572.7" y="339.8" font-size="7.6" font-family='"Liberation Sans", sans-serif' fill="#231f20" text-anchor="middle" textLength="6.4" lengthAdjust="spacingAndGlyphs" stroke="#231f20" stroke-width="0.05">-6</text>
<text x="583.8" y="339.8" font-size="7.6" font-family='"Liberation Sans", sans-serif' fill="#231f20" text-anchor="middle" textLength="10.8" lengthAdjust="spacingAndGlyphs" stroke="#231f20" stroke-width="0.05">-2.5</text>
<text x="594.4" y="339.8" font-size="7.6" font-family='"Liberation Sans", sans-serif' fill="#231f20" text-anchor="middle" textLength="4.0" lengthAdjust="spacingAndGlyphs" stroke="#231f20" stroke-width="0.05">0</text>
<text x="608.3" y="339.8" font-size="7.6" font-family='"Liberation Sans", sans-serif' fill="#231f20" text-anchor="middle" textLength="9.8" lengthAdjust="spacingAndGlyphs" stroke="#231f20" stroke-width="0.05">-30</text>
<text x="628.7" y="339.8" font-size="7.6" font-family='"Liberation Sans", sans-serif' fill="#231f20" text-anchor="middle" textLength="9.8" lengthAdjust="spacingAndGlyphs" stroke="#231f20" stroke-width="0.05">-24</text>
<text x="646.9" y="339.8" font-size="7.6" font-family='"Liberation Sans", sans-serif' fill="#231f20" text-anchor="middle" textLength="9.8" lengthAdjust="spacingAndGlyphs" stroke="#231f20" stroke-width="0.05">-18</text>
<text x="665.8" y="339.8" font-size="7.6" font-family='"Liberation Sans", sans-serif' fill="#231f20" text-anchor="middle" textLength="9.8" lengthAdjust="spacingAndGlyphs" stroke="#231f20" stroke-width="0.05">-12</text>
<text x="685.4" y="339.8" font-size="7.6" font-family='"Liberation Sans", sans-serif' fill="#231f20" text-anchor="middle" textLength="6.4" lengthAdjust="spacingAndGlyphs" stroke="#231f20" stroke-width="0.05">-6</text>
<text x="696.5" y="339.8" font-size="7.6" font-family='"Liberation Sans", sans-serif' fill="#231f20" text-anchor="middle" textLength="10.8" lengthAdjust="spacingAndGlyphs" stroke="#231f20" stroke-width="0.05">-2.5</text>
<text x="705.6" y="339.8" font-size="7.6" font-family='"Liberation Sans", sans-serif' fill="#231f20" text-anchor="middle" textLength="4.0" lengthAdjust="spacingAndGlyphs" stroke="#231f20" stroke-width="0.05">0</text>
<text x="546.2" y="354.4" font-size="12.4" font-family='"Liberation Sans", sans-serif' fill="#231f20" textLength="121.9" lengthAdjust="spacingAndGlyphs" stroke="#231f20" stroke-width="0.2">Modulation Depth (dB)</text>
<text transform="translate(482.6,349.3) rotate(-90)" font-size="12.2" font-family='"Liberation Sans", sans-serif' fill="#231f20" stroke="#231f20" stroke-width="0.2" textLength="99.3" lengthAdjust="spacingAndGlyphs">ln(mean Firing Rate)</text>
</svg>
</body></html>
